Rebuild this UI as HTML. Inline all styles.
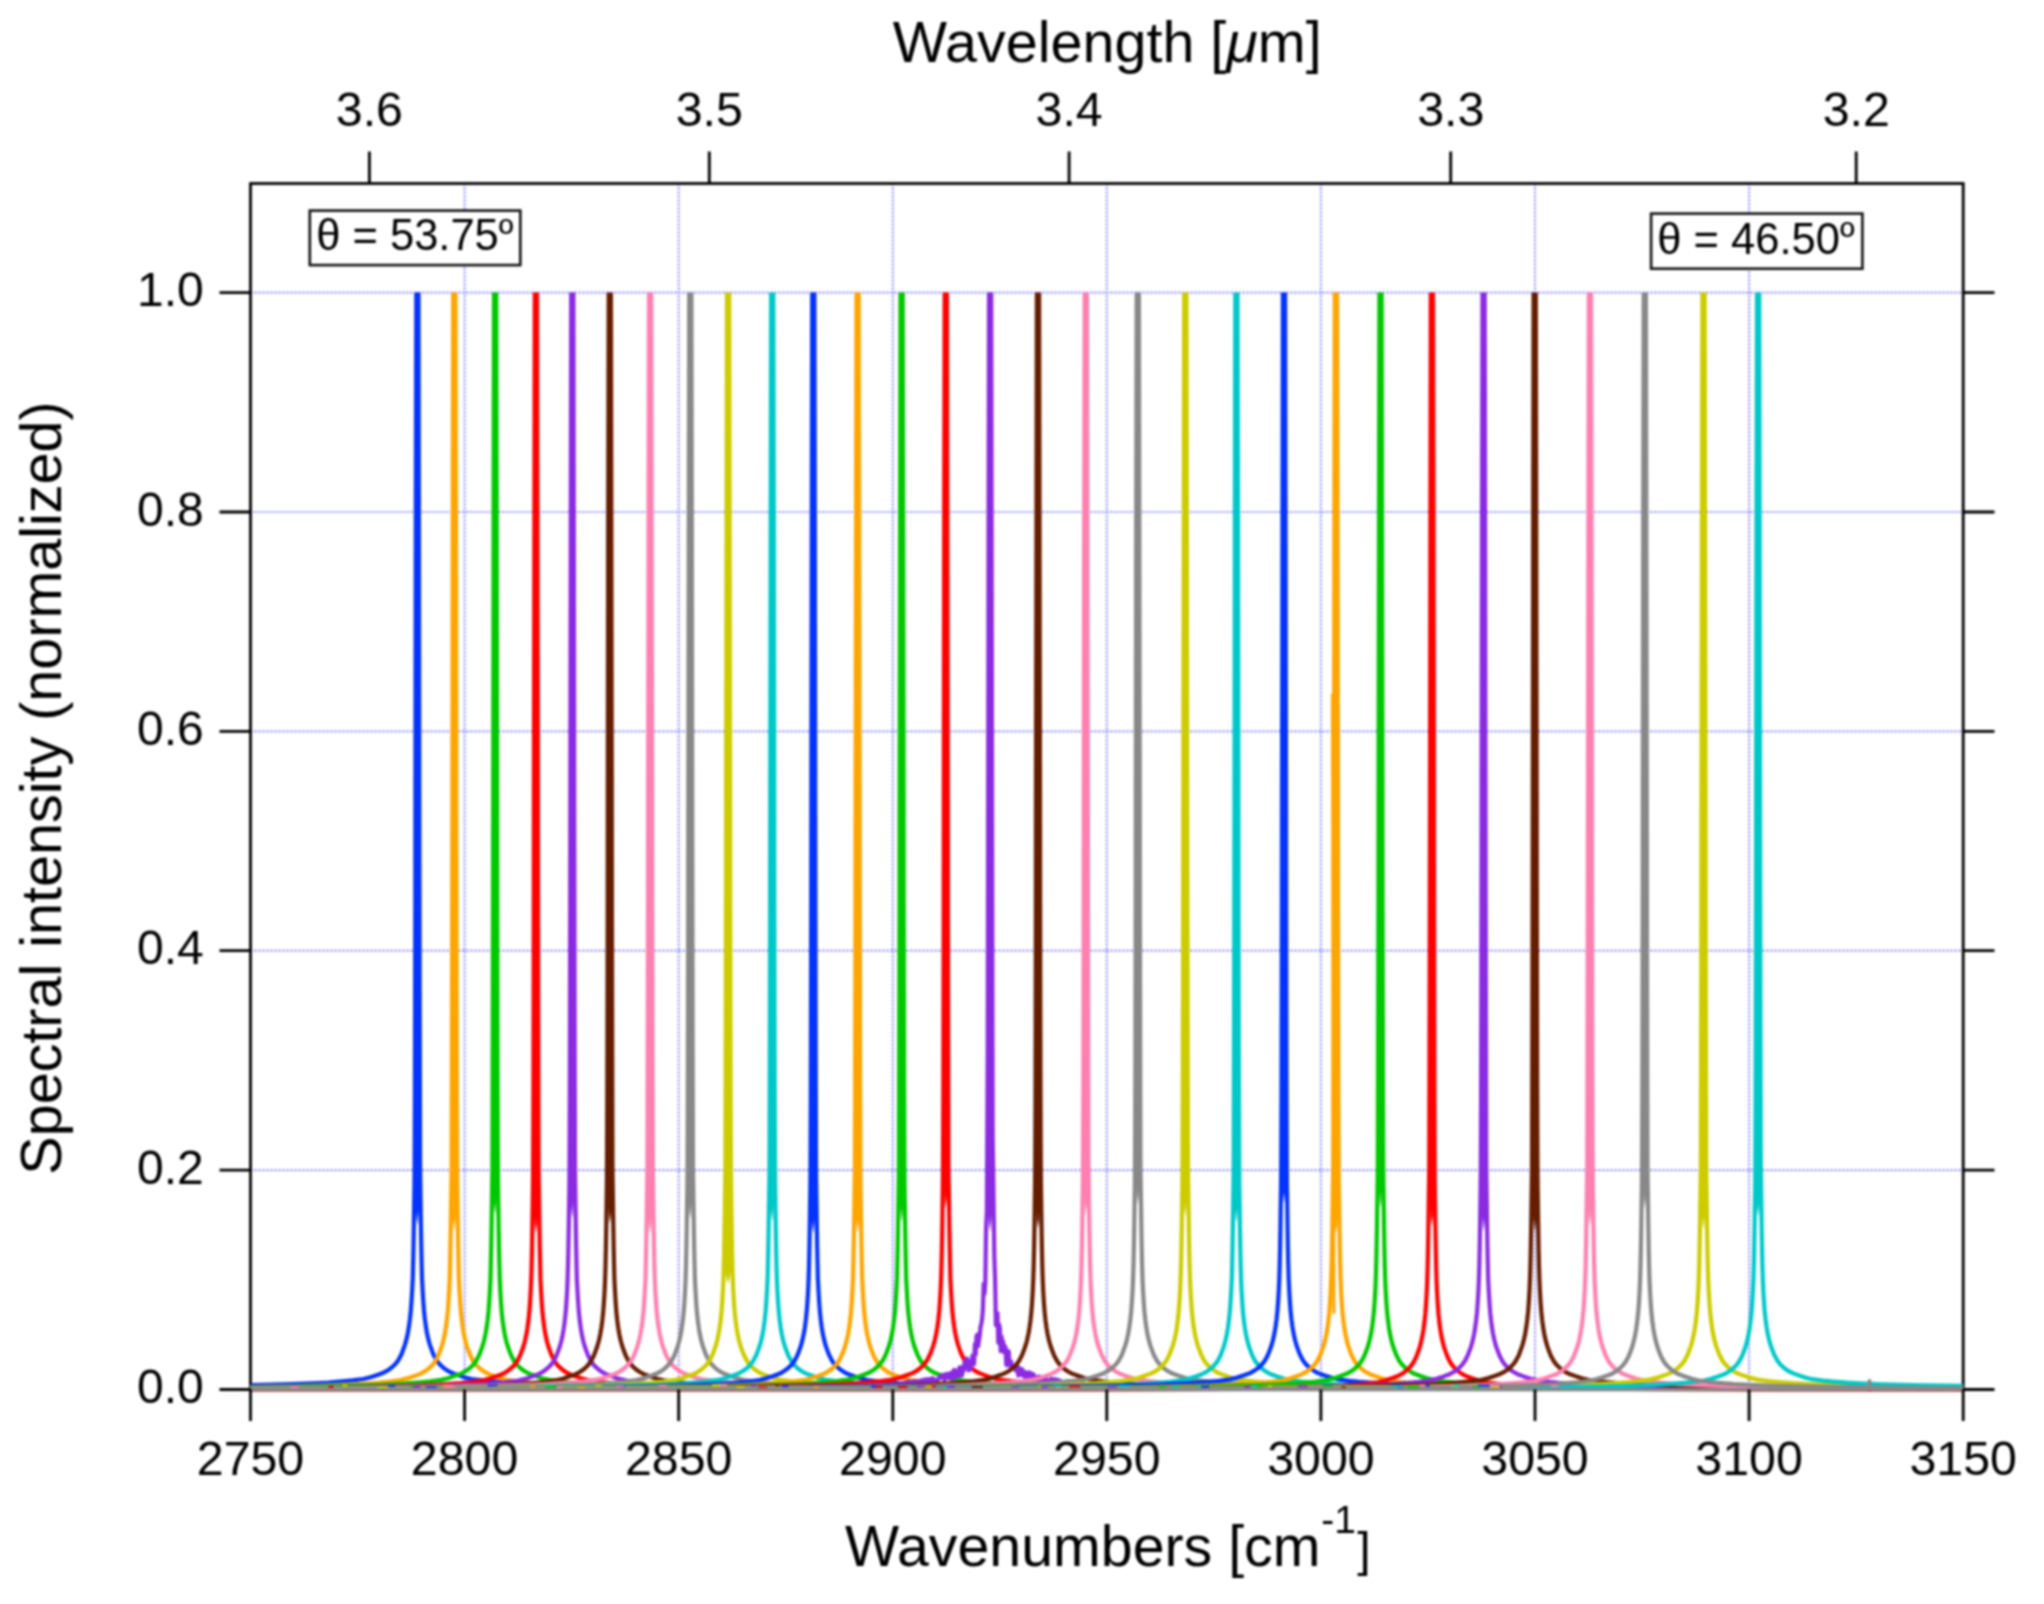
<!DOCTYPE html>
<html><head><meta charset="utf-8"><title>Spectral intensity</title>
<style>html,body{margin:0;padding:0;background:#fff}svg{display:block;filter:blur(0.9px)}text{font-family:"Liberation Sans",Arial,Helvetica,sans-serif;fill:#000}</style></head><body>
<svg width="2044" height="1604" viewBox="0 0 2044 1604">
<rect width="2044" height="1604" fill="#fff"/>
<defs><clipPath id="cp"><rect x="250.5" y="292.4" width="1712.7" height="1099.4"/></clipPath></defs>
<path d="M464.6 183.5 V1389.5 M678.7 183.5 V1389.5 M892.8 183.5 V1389.5 M1106.8 183.5 V1389.5 M1320.9 183.5 V1389.5 M1535.0 183.5 V1389.5 M1749.1 183.5 V1389.5 M250.5 1170.1 H1963.2 M250.5 950.7 H1963.2 M250.5 731.4 H1963.2 M250.5 512.0 H1963.2 M250.5 292.6 H1963.2" stroke="#8a8aff" stroke-width="2.2" stroke-dasharray="2 2" fill="none"/>
<rect x="309.8" y="210.6" width="210.5" height="54.5" fill="#fff" stroke="#111" stroke-width="2.6"/>
<text x="316.2" y="250" font-size="43.5">θ = 53.75<tspan dy="-3.5" font-size="40">º</tspan></text>
<rect x="1651.1" y="213.6" width="211.3" height="55.1" fill="#fff" stroke="#111" stroke-width="2.6"/>
<text x="1657.3" y="253.6" font-size="43.5">θ = 46.50<tspan dy="-3.5" font-size="40">º</tspan></text>
<rect x="250.5" y="183.5" width="1712.7" height="1206.0" fill="none" stroke="#000" stroke-width="2.8"/>
<g clip-path="url(#cp)" fill="none" stroke-width="4.2" stroke-linejoin="round">
<path d="M250.5 1385.1 L252.4 1385.1 L293.4 1384.1 L312.4 1383.4 L328.4 1382.5 L342.4 1381.4 L352.4 1380.4 L363.4 1379.0 L370.4 1377.3 L377.4 1374.9 L383.4 1372.7 L387.4 1370.6 L391.4 1367.8 L395.4 1364.0 L398.4 1360.1 L401.4 1354.4 L403.4 1349.1 L404.9 1344.9 L406.4 1339.6 L407.9 1332.7 L408.9 1326.7 L409.9 1319.3 L410.8 1310.7 L411.5 1301.5 L412.2 1289.6 L412.8 1277.8 L413.1 1264.9 L413.5 1246.5 L413.9 1223.0 L414.2 1201.1 L414.4 1187.7 L414.6 1168.1 L414.9 1091.8 L415.1 1003.6 L415.3 900.0 L415.4 795.2 L415.8 510.0 L416.3 290.6 L417.4 290.6 L418.5 290.6 L418.9 510.0 L419.3 795.2 L419.5 900.0 L419.7 1003.6 L419.9 1091.8 L420.1 1168.1 L420.4 1187.7 L420.6 1201.1 L420.9 1223.0 L421.3 1246.5 L421.7 1264.9 L422.0 1277.8 L422.6 1289.6 L423.3 1301.5 L424.0 1310.7 L424.9 1319.3 L425.9 1326.7 L426.9 1332.7 L428.4 1339.6 L429.9 1344.9 L431.4 1349.1 L433.4 1354.4 L436.4 1360.1 L439.4 1364.0 L443.4 1367.8 L447.4 1370.6 L451.4 1372.7 L457.4 1374.9 L464.4 1377.3 L471.4 1379.0 L482.4 1380.4 L492.4 1381.4 L506.4 1382.5 L522.4 1383.4 L541.4 1384.1 L582.4 1385.1 L637.4 1385.9 L717.4 1386.4 L867.4 1386.9 L1117.4 1387.2 L1417.4 1387.3 L1917.4 1387.4 L1963.2 1387.4" stroke="#0433ff"/>
<path d="M417.4 1225.1 L414.3 1196.1 L414.6 1170.1 L414.8 1115.3 L415.1 1005.6 L415.3 895.9 L415.4 797.2 L415.7 676.5 L415.8 512.0 L416.1 402.3 L416.3 292.6 L418.5 292.6 L418.7 402.3 L418.9 512.0 L419.1 676.5 L419.3 797.2 L419.5 895.9 L419.7 1005.6 L420.0 1115.3 L420.1 1170.1 L420.5 1196.1Z" fill="#0433ff" stroke="none"/>
<path d="M250.5 1386.9 L289.3 1386.3 L330.3 1385.3 L349.3 1384.5 L365.3 1383.6 L379.3 1382.6 L389.3 1381.6 L400.3 1380.1 L407.3 1378.4 L414.3 1376.1 L420.3 1373.9 L424.3 1371.7 L428.3 1368.9 L432.3 1365.2 L435.3 1361.3 L438.3 1355.5 L440.3 1350.3 L441.8 1346.1 L443.3 1340.8 L444.8 1333.8 L445.8 1327.9 L446.8 1320.5 L447.7 1311.9 L448.4 1302.6 L449.1 1290.8 L449.7 1279.0 L450.0 1266.0 L450.4 1247.7 L450.8 1224.1 L451.1 1202.2 L451.3 1188.8 L451.6 1169.3 L451.8 1093.0 L452.0 1004.8 L452.2 901.1 L452.4 796.4 L452.8 511.2 L453.2 291.8 L454.3 291.8 L455.4 291.8 L455.9 511.2 L456.2 796.4 L456.4 901.1 L456.6 1004.8 L456.8 1093.0 L457.1 1169.3 L457.3 1188.8 L457.5 1202.2 L457.8 1224.1 L458.2 1247.7 L458.6 1266.0 L458.9 1279.0 L459.5 1290.8 L460.2 1302.6 L460.9 1311.9 L461.8 1320.5 L462.8 1327.9 L463.8 1333.8 L465.3 1340.8 L466.8 1346.1 L468.3 1350.3 L470.3 1355.5 L473.3 1361.3 L476.3 1365.2 L480.3 1368.9 L484.3 1371.7 L488.3 1373.9 L494.3 1376.1 L501.3 1378.4 L508.3 1380.1 L519.3 1381.6 L529.3 1382.6 L543.3 1383.6 L559.3 1384.5 L578.3 1385.3 L619.3 1386.3 L674.3 1387.0 L754.3 1387.6 L904.3 1388.0 L1154.3 1388.3 L1454.3 1388.5 L1954.3 1388.5 L1963.2 1388.6" stroke="#ffa500"/>
<path d="M454.3 1230.7 L451.1 1202.7 L451.6 1170.1 L451.7 1115.3 L452.0 1005.6 L452.2 895.9 L452.4 797.2 L452.6 676.5 L452.8 512.0 L453.0 402.3 L453.2 292.6 L455.4 292.6 L455.6 402.3 L455.9 512.0 L456.0 676.5 L456.2 797.2 L456.4 895.9 L456.6 1005.6 L456.9 1115.3 L457.1 1170.1 L457.5 1202.7Z" fill="#ffa500" stroke="none"/>
<path d="M250.5 1387.0 L275.1 1386.8 L330.1 1386.0 L371.1 1385.0 L390.1 1384.3 L406.1 1383.4 L420.1 1382.3 L430.1 1381.4 L441.1 1379.9 L448.1 1378.2 L455.1 1375.8 L461.1 1373.6 L465.1 1371.5 L469.1 1368.7 L473.1 1364.9 L476.1 1361.0 L479.1 1355.3 L481.1 1350.1 L482.6 1345.8 L484.1 1340.5 L485.6 1333.6 L486.6 1327.7 L487.6 1320.2 L488.5 1311.7 L489.2 1302.4 L489.9 1290.6 L490.5 1278.8 L490.8 1265.8 L491.2 1247.5 L491.6 1223.9 L491.9 1202.0 L492.1 1188.6 L492.4 1169.1 L492.6 1092.8 L492.8 1004.5 L493.0 900.9 L493.2 796.1 L493.6 510.9 L494.0 291.5 L495.1 291.5 L496.2 291.5 L496.7 510.9 L497.1 796.1 L497.2 900.9 L497.4 1004.5 L497.6 1092.8 L497.9 1169.1 L498.1 1188.6 L498.3 1202.0 L498.6 1223.9 L499.0 1247.5 L499.4 1265.8 L499.8 1278.8 L500.3 1290.6 L501.0 1302.4 L501.7 1311.7 L502.6 1320.2 L503.6 1327.7 L504.6 1333.6 L506.1 1340.5 L507.6 1345.8 L509.1 1350.1 L511.1 1355.3 L514.1 1361.0 L517.1 1364.9 L521.1 1368.7 L525.1 1371.5 L529.1 1373.6 L535.1 1375.8 L542.1 1378.2 L549.1 1379.9 L560.1 1381.4 L570.1 1382.3 L584.1 1383.4 L600.1 1384.3 L619.1 1385.0 L660.1 1386.0 L715.1 1386.8 L795.1 1387.4 L945.1 1387.8 L1195.1 1388.1 L1495.1 1388.2 L1963.2 1388.3" stroke="#00c800"/>
<path d="M495.1 1214.4 L492.2 1183.5 L492.4 1170.1 L492.5 1115.3 L492.8 1005.6 L493.0 895.9 L493.2 797.2 L493.4 676.5 L493.6 512.0 L493.8 402.3 L494.0 292.6 L496.2 292.6 L496.4 402.3 L496.7 512.0 L496.8 676.5 L497.1 797.2 L497.2 895.9 L497.4 1005.6 L497.7 1115.3 L497.9 1170.1 L498.0 1183.5Z" fill="#00c800" stroke="none"/>
<path d="M250.5 1387.9 L315.9 1387.4 L370.9 1386.7 L411.9 1385.7 L430.9 1384.9 L446.9 1384.0 L460.9 1383.0 L470.9 1382.0 L481.9 1380.5 L488.9 1378.8 L495.9 1376.5 L501.9 1374.3 L505.9 1372.2 L509.9 1369.3 L513.9 1365.6 L516.9 1361.7 L519.9 1355.9 L521.9 1350.7 L523.4 1346.5 L524.9 1341.2 L526.4 1334.2 L527.4 1328.3 L528.4 1320.9 L529.3 1312.3 L530.0 1303.0 L530.7 1291.2 L531.2 1279.4 L531.6 1266.4 L532.0 1248.1 L532.4 1224.6 L532.7 1202.6 L532.9 1189.3 L533.1 1169.7 L533.4 1093.4 L533.6 1005.2 L533.8 901.5 L533.9 796.8 L534.4 511.6 L534.8 292.2 L535.9 292.2 L537.0 292.2 L537.4 511.6 L537.9 796.8 L538.0 901.5 L538.2 1005.2 L538.4 1093.4 L538.6 1169.7 L538.9 1189.3 L539.1 1202.6 L539.4 1224.6 L539.8 1248.1 L540.2 1266.4 L540.5 1279.4 L541.1 1291.2 L541.8 1303.0 L542.5 1312.3 L543.4 1320.9 L544.4 1328.3 L545.4 1334.2 L546.9 1341.2 L548.4 1346.5 L549.9 1350.7 L551.9 1355.9 L554.9 1361.7 L557.9 1365.6 L561.9 1369.3 L565.9 1372.2 L569.9 1374.3 L575.9 1376.5 L582.9 1378.8 L589.9 1380.5 L600.9 1382.0 L610.9 1383.0 L624.9 1384.0 L640.9 1384.9 L659.9 1385.7 L700.9 1386.7 L755.9 1387.4 L835.9 1388.0 L985.9 1388.5 L1235.9 1388.7 L1535.9 1388.9 L1963.2 1388.9" stroke="#ff0000"/>
<path d="M535.9 1233.3 L532.7 1205.7 L533.1 1170.1 L533.3 1115.3 L533.6 1005.6 L533.8 895.9 L533.9 797.2 L534.2 676.5 L534.4 512.0 L534.6 402.3 L534.8 292.6 L537.0 292.6 L537.2 402.3 L537.4 512.0 L537.6 676.5 L537.9 797.2 L538.0 895.9 L538.2 1005.6 L538.5 1115.3 L538.6 1170.1 L539.1 1205.7Z" fill="#ff0000" stroke="none"/>
<path d="M250.5 1388.1 L272.3 1388.0 L352.3 1387.4 L407.3 1386.7 L448.3 1385.7 L467.3 1384.9 L483.3 1384.0 L497.3 1383.0 L507.3 1382.0 L518.3 1380.5 L525.3 1378.9 L532.3 1376.5 L538.3 1374.3 L542.3 1372.2 L546.3 1369.3 L550.3 1365.6 L553.3 1361.7 L556.3 1356.0 L558.3 1350.7 L559.8 1346.5 L561.3 1341.2 L562.8 1334.2 L563.8 1328.3 L564.8 1320.9 L565.7 1312.3 L566.4 1303.0 L567.1 1291.2 L567.6 1279.4 L568.0 1266.4 L568.4 1248.1 L568.8 1224.6 L569.1 1202.6 L569.3 1189.3 L569.5 1169.7 L569.8 1093.4 L570.0 1005.2 L570.2 901.5 L570.3 796.8 L570.8 511.6 L571.2 292.2 L572.3 292.2 L573.4 292.2 L573.8 511.6 L574.2 796.8 L574.4 901.5 L574.6 1005.2 L574.8 1093.4 L575.0 1169.7 L575.3 1189.3 L575.5 1202.6 L575.8 1224.6 L576.2 1248.1 L576.6 1266.4 L576.9 1279.4 L577.5 1291.2 L578.2 1303.0 L578.9 1312.3 L579.8 1320.9 L580.8 1328.3 L581.8 1334.2 L583.3 1341.2 L584.8 1346.5 L586.3 1350.7 L588.3 1356.0 L591.3 1361.7 L594.3 1365.6 L598.3 1369.3 L602.3 1372.2 L606.3 1374.3 L612.3 1376.5 L619.3 1378.9 L626.3 1380.5 L637.3 1382.0 L647.3 1383.0 L661.3 1384.0 L677.3 1384.9 L696.3 1385.7 L737.3 1386.7 L792.3 1387.4 L872.3 1388.0 L1022.3 1388.5 L1272.3 1388.7 L1572.3 1388.9 L1963.2 1388.9" stroke="#8a2be2"/>
<path d="M572.3 1218.2 L569.3 1187.9 L569.5 1170.1 L569.7 1115.3 L570.0 1005.6 L570.2 895.9 L570.3 797.2 L570.6 676.5 L570.8 512.0 L571.0 402.3 L571.2 292.6 L573.4 292.6 L573.6 402.3 L573.8 512.0 L574.0 676.5 L574.2 797.2 L574.4 895.9 L574.6 1005.6 L574.9 1115.3 L575.0 1170.1 L575.3 1187.9Z" fill="#8a2be2" stroke="none"/>
<path d="M250.5 1388.0 L309.8 1387.8 L389.8 1387.2 L444.8 1386.5 L485.8 1385.5 L504.8 1384.8 L520.8 1383.9 L534.8 1382.8 L544.8 1381.8 L555.8 1380.3 L562.8 1378.7 L569.8 1376.3 L575.8 1374.1 L579.8 1372.0 L583.8 1369.2 L587.8 1365.4 L590.8 1361.5 L593.8 1355.8 L595.8 1350.5 L597.3 1346.3 L598.8 1341.0 L600.3 1334.1 L601.3 1328.1 L602.3 1320.7 L603.2 1312.1 L603.9 1302.8 L604.6 1291.0 L605.1 1279.2 L605.5 1266.2 L605.9 1247.9 L606.3 1224.4 L606.6 1202.4 L606.8 1189.1 L607.0 1169.5 L607.3 1093.2 L607.5 1005.0 L607.7 901.4 L607.8 796.6 L608.2 511.4 L608.7 292.0 L609.8 292.0 L610.9 292.0 L611.3 511.4 L611.8 796.6 L611.9 901.4 L612.1 1005.0 L612.3 1093.2 L612.5 1169.5 L612.8 1189.1 L613.0 1202.4 L613.3 1224.4 L613.7 1247.9 L614.1 1266.2 L614.4 1279.2 L615.0 1291.0 L615.7 1302.8 L616.4 1312.1 L617.3 1320.7 L618.3 1328.1 L619.3 1334.1 L620.8 1341.0 L622.3 1346.3 L623.8 1350.5 L625.8 1355.8 L628.8 1361.5 L631.8 1365.4 L635.8 1369.2 L639.8 1372.0 L643.8 1374.1 L649.8 1376.3 L656.8 1378.7 L663.8 1380.3 L674.8 1381.8 L684.8 1382.8 L698.8 1383.9 L714.8 1384.8 L733.8 1385.5 L774.8 1386.5 L829.8 1387.2 L909.8 1387.8 L1059.8 1388.3 L1309.8 1388.5 L1609.8 1388.7 L1963.2 1388.8" stroke="#651d00"/>
<path d="M609.8 1223.7 L606.7 1194.5 L607.0 1170.1 L607.2 1115.3 L607.5 1005.6 L607.7 895.9 L607.8 797.2 L608.1 676.5 L608.2 512.0 L608.5 402.3 L608.7 292.6 L610.9 292.6 L611.1 402.3 L611.3 512.0 L611.5 676.5 L611.8 797.2 L611.9 895.9 L612.1 1005.6 L612.4 1115.3 L612.5 1170.1 L612.9 1194.5Z" fill="#651d00" stroke="none"/>
<path d="M250.5 1387.5 L350.1 1387.2 L430.1 1386.6 L485.1 1385.9 L526.1 1384.9 L545.1 1384.1 L561.1 1383.2 L575.1 1382.2 L585.1 1381.2 L596.1 1379.7 L603.1 1378.0 L610.1 1375.7 L616.1 1373.5 L620.1 1371.3 L624.1 1368.5 L628.1 1364.8 L631.1 1360.9 L634.1 1355.1 L636.1 1349.9 L637.6 1345.7 L639.1 1340.3 L640.6 1333.4 L641.6 1327.5 L642.6 1320.0 L643.5 1311.5 L644.2 1302.2 L644.9 1290.4 L645.5 1278.6 L645.8 1265.6 L646.2 1247.3 L646.6 1223.7 L646.9 1201.8 L647.1 1188.4 L647.4 1168.9 L647.6 1092.6 L647.8 1004.4 L648.0 900.7 L648.1 795.9 L648.6 510.8 L649.0 291.4 L650.1 291.4 L651.2 291.4 L651.6 510.8 L652.1 795.9 L652.2 900.7 L652.4 1004.4 L652.6 1092.6 L652.9 1168.9 L653.1 1188.4 L653.3 1201.8 L653.6 1223.7 L654.0 1247.3 L654.4 1265.6 L654.8 1278.6 L655.3 1290.4 L656.0 1302.2 L656.7 1311.5 L657.6 1320.0 L658.6 1327.5 L659.6 1333.4 L661.1 1340.3 L662.6 1345.7 L664.1 1349.9 L666.1 1355.1 L669.1 1360.9 L672.1 1364.8 L676.1 1368.5 L680.1 1371.3 L684.1 1373.5 L690.1 1375.7 L697.1 1378.0 L704.1 1379.7 L715.1 1381.2 L725.1 1382.2 L739.1 1383.2 L755.1 1384.1 L774.1 1384.9 L815.1 1385.9 L870.1 1386.6 L950.1 1387.2 L1100.1 1387.6 L1350.1 1387.9 L1650.1 1388.1 L1963.2 1388.1" stroke="#ff80b0"/>
<path d="M650.1 1233.8 L646.9 1206.3 L647.4 1170.1 L647.5 1115.3 L647.8 1005.6 L648.0 895.9 L648.1 797.2 L648.4 676.5 L648.6 512.0 L648.8 402.3 L649.0 292.6 L651.2 292.6 L651.4 402.3 L651.6 512.0 L651.8 676.5 L652.1 797.2 L652.2 895.9 L652.4 1005.6 L652.7 1115.3 L652.9 1170.1 L653.3 1206.3Z" fill="#ff80b0" stroke="none"/>
<path d="M250.5 1388.0 L390.3 1387.5 L470.3 1387.0 L525.3 1386.2 L566.3 1385.2 L585.3 1384.5 L601.3 1383.6 L615.3 1382.5 L625.3 1381.5 L636.3 1380.1 L643.3 1378.4 L650.3 1376.0 L656.3 1373.8 L660.3 1371.7 L664.3 1368.9 L668.3 1365.1 L671.3 1361.2 L674.3 1355.5 L676.3 1350.2 L677.8 1346.0 L679.3 1340.7 L680.8 1333.8 L681.8 1327.8 L682.8 1320.4 L683.7 1311.8 L684.4 1302.5 L685.1 1290.7 L685.6 1278.9 L686.0 1266.0 L686.4 1247.6 L686.8 1224.1 L687.1 1202.1 L687.3 1188.8 L687.5 1169.2 L687.8 1092.9 L688.0 1004.7 L688.2 901.1 L688.3 796.3 L688.8 511.1 L689.2 291.7 L690.3 291.7 L691.4 291.7 L691.8 511.1 L692.2 796.3 L692.4 901.1 L692.6 1004.7 L692.8 1092.9 L693.0 1169.2 L693.3 1188.8 L693.5 1202.1 L693.8 1224.1 L694.2 1247.6 L694.6 1266.0 L694.9 1278.9 L695.5 1290.7 L696.2 1302.5 L696.9 1311.8 L697.8 1320.4 L698.8 1327.8 L699.8 1333.8 L701.3 1340.7 L702.8 1346.0 L704.3 1350.2 L706.3 1355.5 L709.3 1361.2 L712.3 1365.1 L716.3 1368.9 L720.3 1371.7 L724.3 1373.8 L730.3 1376.0 L737.3 1378.4 L744.3 1380.1 L755.3 1381.5 L765.3 1382.5 L779.3 1383.6 L795.3 1384.5 L814.3 1385.2 L855.3 1386.2 L910.3 1387.0 L990.3 1387.5 L1140.3 1388.0 L1390.3 1388.3 L1690.3 1388.4 L1963.2 1388.4" stroke="#888888"/>
<path d="M690.3 1219.1 L687.3 1189.0 L687.5 1170.1 L687.7 1115.3 L688.0 1005.6 L688.2 895.9 L688.3 797.2 L688.6 676.5 L688.8 512.0 L689.0 402.3 L689.2 292.6 L691.4 292.6 L691.6 402.3 L691.8 512.0 L692.0 676.5 L692.2 797.2 L692.4 895.9 L692.6 1005.6 L692.9 1115.3 L693.0 1170.1 L693.3 1189.0Z" fill="#888888" stroke="none"/>
<path d="M250.5 1388.2 L278.1 1388.1 L428.1 1387.7 L508.1 1387.1 L563.1 1386.3 L604.1 1385.4 L623.1 1384.6 L639.1 1383.7 L653.1 1382.6 L663.1 1381.7 L674.1 1380.2 L681.1 1378.5 L688.1 1376.1 L694.1 1373.9 L698.1 1371.8 L702.1 1369.0 L706.1 1365.2 L709.1 1361.3 L712.1 1355.6 L714.1 1350.4 L715.6 1346.1 L717.1 1340.8 L718.6 1333.9 L719.6 1328.0 L720.6 1320.5 L721.5 1312.0 L722.2 1302.7 L722.9 1290.9 L723.5 1279.1 L723.8 1266.1 L724.2 1247.8 L724.6 1224.2 L724.9 1202.3 L725.1 1188.9 L725.4 1169.4 L725.6 1093.1 L725.8 1004.8 L726.0 901.2 L726.1 796.4 L726.6 511.2 L727.0 291.9 L728.1 291.9 L729.2 291.9 L729.6 511.2 L730.1 796.4 L730.2 901.2 L730.4 1004.8 L730.6 1093.1 L730.9 1169.4 L731.1 1188.9 L731.3 1202.3 L731.6 1224.2 L732.0 1247.8 L732.4 1266.1 L732.8 1279.1 L733.3 1290.9 L734.0 1302.7 L734.7 1312.0 L735.6 1320.5 L736.6 1328.0 L737.6 1333.9 L739.1 1340.8 L740.6 1346.1 L742.1 1350.4 L744.1 1355.6 L747.1 1361.3 L750.1 1365.2 L754.1 1369.0 L758.1 1371.8 L762.1 1373.9 L768.1 1376.1 L775.1 1378.5 L782.1 1380.2 L793.1 1381.7 L803.1 1382.6 L817.1 1383.7 L833.1 1384.6 L852.1 1385.4 L893.1 1386.3 L948.1 1387.1 L1028.1 1387.7 L1178.1 1388.1 L1428.1 1388.4 L1728.1 1388.5 L1963.2 1388.6" stroke="#cccc00"/>
<path d="M728.1 1284.1 L723.8 1265.6 L725.4 1170.1 L725.5 1115.3 L725.8 1005.6 L726.0 895.9 L726.1 797.2 L726.4 676.5 L726.6 512.0 L726.8 402.3 L727.0 292.6 L729.2 292.6 L729.4 402.3 L729.6 512.0 L729.8 676.5 L730.1 797.2 L730.2 895.9 L730.4 1005.6 L730.7 1115.3 L730.9 1170.1 L732.4 1265.6Z" fill="#cccc00" stroke="none"/>
<path d="M250.5 1387.9 L322.2 1387.8 L472.2 1387.3 L552.2 1386.7 L607.2 1386.0 L648.2 1385.0 L667.2 1384.3 L683.2 1383.4 L697.2 1382.3 L707.2 1381.3 L718.2 1379.8 L725.2 1378.2 L732.2 1375.8 L738.2 1373.6 L742.2 1371.5 L746.2 1368.7 L750.2 1364.9 L753.2 1361.0 L756.2 1355.3 L758.2 1350.0 L759.7 1345.8 L761.2 1340.5 L762.7 1333.6 L763.7 1327.6 L764.7 1320.2 L765.6 1311.6 L766.3 1302.3 L767.0 1290.5 L767.6 1278.7 L767.9 1265.7 L768.3 1247.4 L768.7 1223.9 L769.0 1201.9 L769.2 1188.6 L769.5 1169.0 L769.7 1092.7 L769.9 1004.5 L770.1 900.9 L770.2 796.1 L770.7 510.9 L771.1 291.5 L772.2 291.5 L773.3 291.5 L773.8 510.9 L774.2 796.1 L774.3 900.9 L774.5 1004.5 L774.7 1092.7 L775.0 1169.0 L775.2 1188.6 L775.4 1201.9 L775.7 1223.9 L776.1 1247.4 L776.5 1265.7 L776.9 1278.7 L777.4 1290.5 L778.1 1302.3 L778.8 1311.6 L779.7 1320.2 L780.7 1327.6 L781.7 1333.6 L783.2 1340.5 L784.7 1345.8 L786.2 1350.0 L788.2 1355.3 L791.2 1361.0 L794.2 1364.9 L798.2 1368.7 L802.2 1371.5 L806.2 1373.6 L812.2 1375.8 L819.2 1378.2 L826.2 1379.8 L837.2 1381.3 L847.2 1382.3 L861.2 1383.4 L877.2 1384.3 L896.2 1385.0 L937.2 1386.0 L992.2 1386.7 L1072.2 1387.3 L1222.2 1387.8 L1472.2 1388.0 L1772.2 1388.2 L1963.2 1388.2" stroke="#00c8c8"/>
<path d="M772.2 1221.5 L769.2 1191.9 L769.5 1170.1 L769.6 1115.3 L769.9 1005.6 L770.1 895.9 L770.2 797.2 L770.5 676.5 L770.7 512.0 L770.9 402.3 L771.1 292.6 L773.3 292.6 L773.5 402.3 L773.8 512.0 L773.9 676.5 L774.2 797.2 L774.3 895.9 L774.5 1005.6 L774.8 1115.3 L775.0 1170.1 L775.2 1191.9Z" fill="#00c8c8" stroke="none"/>
<path d="M250.5 1388.1 L363.3 1387.9 L513.3 1387.5 L593.3 1386.9 L648.3 1386.2 L689.3 1385.2 L708.3 1384.4 L724.3 1383.5 L738.3 1382.5 L748.3 1381.5 L759.3 1380.0 L766.3 1378.3 L773.3 1376.0 L779.3 1373.8 L783.3 1371.6 L787.3 1368.8 L791.3 1365.1 L794.3 1361.2 L797.3 1355.4 L799.3 1350.2 L800.8 1346.0 L802.3 1340.6 L803.8 1333.7 L804.8 1327.8 L805.8 1320.3 L806.7 1311.8 L807.4 1302.5 L808.1 1290.7 L808.6 1278.9 L809.0 1265.9 L809.4 1247.6 L809.8 1224.0 L810.1 1202.1 L810.3 1188.7 L810.5 1169.2 L810.8 1092.9 L811.0 1004.7 L811.2 901.0 L811.3 796.2 L811.8 511.1 L812.2 291.7 L813.3 291.7 L814.4 291.7 L814.8 511.1 L815.2 796.2 L815.4 901.0 L815.6 1004.7 L815.8 1092.9 L816.0 1169.2 L816.3 1188.7 L816.5 1202.1 L816.8 1224.0 L817.2 1247.6 L817.6 1265.9 L817.9 1278.9 L818.5 1290.7 L819.2 1302.5 L819.9 1311.8 L820.8 1320.3 L821.8 1327.8 L822.8 1333.7 L824.3 1340.6 L825.8 1346.0 L827.3 1350.2 L829.3 1355.4 L832.3 1361.2 L835.3 1365.1 L839.3 1368.8 L843.3 1371.6 L847.3 1373.8 L853.3 1376.0 L860.3 1378.3 L867.3 1380.0 L878.3 1381.5 L888.3 1382.5 L902.3 1383.5 L918.3 1384.4 L937.3 1385.2 L978.3 1386.2 L1033.3 1386.9 L1113.3 1387.5 L1263.3 1387.9 L1513.3 1388.2 L1813.3 1388.4 L1963.2 1388.4" stroke="#0433ff"/>
<path d="M813.3 1233.4 L810.1 1205.8 L810.5 1170.1 L810.7 1115.3 L811.0 1005.6 L811.2 895.9 L811.3 797.2 L811.6 676.5 L811.8 512.0 L812.0 402.3 L812.2 292.6 L814.4 292.6 L814.6 402.3 L814.8 512.0 L815.0 676.5 L815.2 797.2 L815.4 895.9 L815.6 1005.6 L815.9 1115.3 L816.0 1170.1 L816.5 1205.8Z" fill="#0433ff" stroke="none"/>
<path d="M250.5 1388.3 L407.6 1388.1 L557.6 1387.7 L637.6 1387.1 L692.6 1386.4 L733.6 1385.4 L752.6 1384.6 L768.6 1383.7 L782.6 1382.7 L792.6 1381.7 L803.6 1380.2 L810.6 1378.5 L817.6 1376.2 L823.6 1374.0 L827.6 1371.8 L831.6 1369.0 L835.6 1365.3 L838.6 1361.4 L841.6 1355.6 L843.6 1350.4 L845.1 1346.2 L846.6 1340.9 L848.1 1333.9 L849.1 1328.0 L850.1 1320.5 L851.0 1312.0 L851.7 1302.7 L852.4 1290.9 L853.0 1279.1 L853.3 1266.1 L853.7 1247.8 L854.1 1224.2 L854.4 1202.3 L854.6 1188.9 L854.9 1169.4 L855.1 1093.1 L855.3 1004.9 L855.5 901.2 L855.6 796.5 L856.1 511.3 L856.5 291.9 L857.6 291.9 L858.7 291.9 L859.1 511.3 L859.6 796.5 L859.7 901.2 L859.9 1004.9 L860.1 1093.1 L860.4 1169.4 L860.6 1188.9 L860.8 1202.3 L861.1 1224.2 L861.5 1247.8 L861.9 1266.1 L862.2 1279.1 L862.8 1290.9 L863.5 1302.7 L864.2 1312.0 L865.1 1320.5 L866.1 1328.0 L867.1 1333.9 L868.6 1340.9 L870.1 1346.2 L871.6 1350.4 L873.6 1355.6 L876.6 1361.4 L879.6 1365.3 L883.6 1369.0 L887.6 1371.8 L891.6 1374.0 L897.6 1376.2 L904.6 1378.5 L911.6 1380.2 L922.6 1381.7 L932.6 1382.7 L946.6 1383.7 L962.6 1384.6 L981.6 1385.4 L1022.6 1386.4 L1077.6 1387.1 L1157.6 1387.7 L1307.6 1388.1 L1557.6 1388.4 L1857.6 1388.6 L1963.2 1388.6" stroke="#ffa500"/>
<path d="M857.6 1232.7 L854.4 1205.0 L854.9 1170.1 L855.0 1115.3 L855.3 1005.6 L855.5 895.9 L855.6 797.2 L855.9 676.5 L856.1 512.0 L856.3 402.3 L856.5 292.6 L858.7 292.6 L858.9 402.3 L859.1 512.0 L859.3 676.5 L859.6 797.2 L859.7 895.9 L859.9 1005.6 L860.2 1115.3 L860.4 1170.1 L860.8 1205.0Z" fill="#ffa500" stroke="none"/>
<path d="M250.5 1387.7 L451.6 1387.5 L601.6 1387.0 L681.6 1386.5 L736.6 1385.7 L777.6 1384.7 L796.6 1384.0 L812.6 1383.1 L826.6 1382.0 L836.6 1381.0 L847.6 1379.6 L854.6 1377.9 L861.6 1375.5 L867.6 1373.3 L871.6 1371.2 L875.6 1368.4 L879.6 1364.6 L882.6 1360.7 L885.6 1355.0 L887.6 1349.7 L889.1 1345.5 L890.6 1340.2 L892.1 1333.3 L893.1 1327.3 L894.1 1319.9 L895.0 1311.3 L895.7 1302.1 L896.4 1290.2 L897.0 1278.4 L897.3 1265.5 L897.7 1247.1 L898.1 1223.6 L898.4 1201.7 L898.6 1188.3 L898.9 1168.7 L899.1 1092.4 L899.3 1004.2 L899.5 900.6 L899.6 795.8 L900.1 510.6 L900.5 291.2 L901.6 291.2 L902.7 291.2 L903.1 510.6 L903.6 795.8 L903.7 900.6 L903.9 1004.2 L904.1 1092.4 L904.4 1168.7 L904.6 1188.3 L904.8 1201.7 L905.1 1223.6 L905.5 1247.1 L905.9 1265.5 L906.2 1278.4 L906.8 1290.2 L907.5 1302.1 L908.2 1311.3 L909.1 1319.9 L910.1 1327.3 L911.1 1333.3 L912.6 1340.2 L914.1 1345.5 L915.6 1349.7 L917.6 1355.0 L920.6 1360.7 L923.6 1364.6 L927.6 1368.4 L931.6 1371.2 L935.6 1373.3 L941.6 1375.5 L948.6 1377.9 L955.6 1379.6 L966.6 1381.0 L976.6 1382.0 L990.6 1383.1 L1006.6 1384.0 L1025.6 1384.7 L1066.6 1385.7 L1121.6 1386.5 L1201.6 1387.0 L1351.6 1387.5 L1601.6 1387.8 L1901.6 1387.9 L1963.2 1387.9" stroke="#00c800"/>
<path d="M901.6 1221.8 L898.6 1192.2 L898.9 1170.1 L899.0 1115.3 L899.3 1005.6 L899.5 895.9 L899.6 797.2 L899.9 676.5 L900.1 512.0 L900.3 402.3 L900.5 292.6 L902.7 292.6 L902.9 402.3 L903.1 512.0 L903.3 676.5 L903.6 797.2 L903.7 895.9 L903.9 1005.6 L904.2 1115.3 L904.4 1170.1 L904.6 1192.2Z" fill="#00c800" stroke="none"/>
<path d="M250.5 1387.9 L495.8 1387.6 L645.8 1387.2 L725.8 1386.6 L780.8 1385.8 L821.8 1384.9 L840.8 1384.1 L856.8 1383.2 L870.8 1382.1 L880.8 1381.2 L891.8 1379.7 L898.8 1378.0 L905.8 1375.6 L911.8 1373.4 L915.8 1371.3 L919.8 1368.5 L923.8 1364.7 L926.8 1360.8 L929.8 1355.1 L931.8 1349.9 L933.3 1345.6 L934.8 1340.3 L936.3 1333.4 L937.3 1327.5 L938.3 1320.0 L939.2 1311.5 L939.9 1302.2 L940.6 1290.4 L941.1 1278.6 L941.5 1265.6 L941.9 1247.3 L942.3 1223.7 L942.6 1201.8 L942.8 1188.4 L943.0 1168.9 L943.3 1092.6 L943.5 1004.3 L943.7 900.7 L943.8 795.9 L944.2 510.7 L944.7 291.4 L945.8 291.4 L946.9 291.4 L947.3 510.7 L947.8 795.9 L947.9 900.7 L948.1 1004.3 L948.3 1092.6 L948.5 1168.9 L948.8 1188.4 L949.0 1201.8 L949.3 1223.7 L949.7 1247.3 L950.1 1265.6 L950.4 1278.6 L951.0 1290.4 L951.7 1302.2 L952.4 1311.5 L953.3 1320.0 L954.3 1327.5 L955.3 1333.4 L956.8 1340.3 L958.3 1345.6 L959.8 1349.9 L961.8 1355.1 L964.8 1360.8 L967.8 1364.7 L971.8 1368.5 L975.8 1371.3 L979.8 1373.4 L985.8 1375.6 L992.8 1378.0 L999.8 1379.7 L1010.8 1381.2 L1020.8 1382.1 L1034.8 1383.2 L1050.8 1384.1 L1069.8 1384.9 L1110.8 1385.8 L1165.8 1386.6 L1245.8 1387.2 L1395.8 1387.6 L1645.8 1387.9 L1945.8 1388.0 L1963.2 1388.0" stroke="#ff0000"/>
<path d="M945.8 1208.7 L943.0 1176.8 L943.0 1170.1 L943.2 1115.3 L943.5 1005.6 L943.7 895.9 L943.8 797.2 L944.1 676.5 L944.2 512.0 L944.5 402.3 L944.7 292.6 L946.9 292.6 L947.1 402.3 L947.3 512.0 L947.5 676.5 L947.8 797.2 L947.9 895.9 L948.1 1005.6 L948.4 1115.3 L948.5 1170.1 L948.6 1176.8Z" fill="#ff0000" stroke="none"/>
<path d="M250.5 1388.5 L290.5 1388.5 L330.5 1388.5 L370.5 1388.4 L410.5 1388.4 L450.5 1388.3 L490.5 1388.3 L530.5 1388.2 L570.5 1388.1 L610.5 1388.0 L650.5 1387.9 L690.5 1387.8 L696.5 1387.7 L702.5 1387.7 L708.5 1387.7 L714.5 1387.6 L720.5 1387.6 L726.5 1387.5 L732.5 1387.5 L738.5 1387.5 L744.5 1387.4 L750.5 1387.4 L756.5 1387.3 L762.5 1387.3 L768.5 1387.2 L774.5 1387.2 L780.5 1387.1 L786.5 1387.0 L792.5 1386.9 L798.5 1386.9 L804.5 1386.8 L810.5 1386.7 L816.5 1386.6 L822.5 1386.5 L828.5 1386.4 L834.5 1386.3 L840.5 1386.1 L846.5 1386.0 L852.5 1385.8 L858.5 1385.7 L864.5 1385.5 L870.5 1385.3 L876.5 1385.1 L882.5 1384.8 L888.5 1384.5 L894.5 1384.2 L900.5 1384.5 L901.3 1383.4 L902.1 1384.0 L902.9 1383.1 L903.7 1383.0 L904.5 1384.8 L905.3 1385.0 L906.1 1382.1 L906.9 1384.0 L907.7 1384.1 L908.5 1381.3 L909.3 1383.1 L910.1 1381.7 L910.9 1382.9 L911.7 1382.3 L912.5 1384.0 L913.3 1382.1 L914.1 1381.1 L914.9 1382.4 L915.7 1381.5 L916.5 1381.7 L917.3 1384.1 L918.1 1381.1 L918.9 1381.8 L919.7 1382.9 L920.5 1384.0 L921.3 1380.3 L922.1 1381.9 L922.9 1380.8 L923.7 1379.9 L924.5 1380.6 L925.3 1379.5 L926.1 1381.8 L926.9 1379.8 L927.7 1381.4 L928.5 1379.0 L929.3 1379.1 L930.1 1382.8 L930.9 1382.6 L931.7 1382.1 L932.5 1378.1 L933.3 1380.7 L934.1 1379.6 L934.9 1381.2 L935.7 1380.0 L936.5 1380.5 L937.3 1380.5 L938.1 1379.0 L938.9 1378.8 L939.7 1376.7 L940.5 1377.8 L941.3 1376.0 L942.1 1376.2 L942.9 1375.0 L943.7 1376.9 L944.5 1380.1 L945.3 1375.0 L946.1 1373.9 L946.9 1374.0 L947.7 1376.1 L948.5 1374.7 L949.3 1378.3 L950.1 1373.0 L950.9 1374.8 L951.7 1377.0 L952.5 1378.6 L953.3 1371.5 L954.1 1369.9 L954.9 1377.7 L955.7 1370.8 L956.5 1374.1 L957.3 1376.3 L958.1 1374.5 L958.9 1369.1 L959.7 1367.4 L960.5 1376.0 L961.3 1369.1 L962.1 1375.2 L962.9 1366.6 L963.7 1370.7 L964.5 1363.0 L965.3 1360.8 L966.1 1366.4 L966.9 1358.5 L967.7 1367.6 L968.5 1370.4 L969.3 1361.3 L970.1 1369.6 L970.9 1365.9 L971.7 1360.9 L972.5 1355.6 L973.3 1363.1 L974.1 1364.1 L974.9 1344.0 L975.7 1354.5 L976.5 1336.1 L977.3 1334.8 L978.1 1346.2 L978.9 1340.9 L979.7 1335.6 L980.5 1327.2 L981.3 1323.9 L982.1 1319.4 L982.9 1309.5 L983.7 1283.8 L984.5 1293.9 L985.3 1282.9 L986.1 1227.9 L986.9 1210.8 L987.7 1052.8 L988.0 901.3 L988.3 709.5 L988.6 492.4 L988.9 352.3 L989.0 291.9 L989.3 291.9 L989.6 291.9 L989.9 291.9 L990.1 291.9 L990.4 291.9 L990.7 291.9 L991.0 291.9 L991.2 291.9 L991.5 451.2 L991.8 639.7 L992.1 834.6 L992.4 1004.9 L992.7 1135.4 L993.5 1196.1 L994.3 1255.0 L995.1 1279.5 L995.9 1325.1 L996.7 1313.0 L997.5 1313.3 L998.3 1342.8 L999.1 1324.5 L999.9 1328.8 L1000.7 1351.2 L1001.5 1336.7 L1002.3 1344.4 L1003.1 1341.3 L1003.9 1352.0 L1004.7 1345.8 L1005.5 1347.5 L1006.3 1364.8 L1007.1 1365.3 L1007.9 1354.8 L1008.7 1351.2 L1009.5 1365.2 L1010.3 1362.8 L1011.1 1361.6 L1011.9 1366.9 L1012.7 1367.0 L1013.5 1368.5 L1014.3 1368.5 L1015.1 1366.1 L1015.9 1370.7 L1016.7 1370.3 L1017.5 1366.1 L1018.3 1375.5 L1019.1 1369.8 L1019.9 1368.5 L1020.7 1373.6 L1021.5 1374.9 L1022.3 1369.4 L1023.1 1375.5 L1023.9 1376.3 L1024.7 1374.3 L1025.5 1372.2 L1026.3 1377.9 L1027.1 1376.2 L1027.9 1376.4 L1028.7 1372.4 L1029.5 1376.0 L1030.3 1372.9 L1031.1 1378.7 L1031.9 1377.7 L1032.7 1375.6 L1033.5 1374.2 L1034.3 1377.6 L1035.1 1379.5 L1035.9 1380.4 L1036.7 1377.9 L1037.5 1380.3 L1038.3 1376.6 L1039.1 1376.6 L1039.9 1380.9 L1040.7 1380.5 L1041.5 1377.5 L1042.3 1378.7 L1043.1 1378.0 L1043.9 1380.7 L1044.7 1382.1 L1045.5 1381.3 L1046.3 1378.7 L1047.1 1381.6 L1047.9 1381.3 L1048.7 1381.1 L1049.5 1381.2 L1050.3 1381.3 L1051.1 1378.9 L1051.9 1382.7 L1052.7 1383.5 L1053.5 1379.2 L1054.3 1379.6 L1055.1 1379.3 L1055.9 1381.9 L1056.7 1379.7 L1057.5 1379.9 L1058.3 1383.0 L1059.1 1380.9 L1059.9 1380.6 L1060.7 1381.4 L1061.5 1382.1 L1062.3 1383.1 L1063.1 1382.9 L1063.9 1383.5 L1064.7 1384.2 L1065.5 1382.2 L1066.3 1383.4 L1067.1 1381.5 L1067.9 1384.4 L1068.7 1381.3 L1069.5 1382.2 L1070.3 1381.4 L1071.1 1381.6 L1071.9 1381.6 L1072.7 1382.9 L1073.5 1384.9 L1074.3 1382.4 L1075.1 1384.4 L1075.9 1384.0 L1076.7 1382.9 L1077.5 1383.4 L1078.3 1383.8 L1079.1 1382.2 L1079.9 1383.3 L1080.7 1384.2 L1081.5 1384.5 L1082.3 1382.7 L1083.1 1383.9 L1083.9 1383.0 L1084.7 1384.4 L1085.5 1384.2 L1091.5 1384.5 L1097.5 1384.8 L1103.5 1385.1 L1109.5 1385.3 L1115.5 1385.5 L1121.5 1385.7 L1127.5 1385.8 L1133.5 1386.0 L1139.5 1386.1 L1145.5 1386.3 L1151.5 1386.4 L1157.5 1386.5 L1163.5 1386.6 L1169.5 1386.7 L1175.5 1386.8 L1181.5 1386.9 L1187.5 1386.9 L1193.5 1387.0 L1199.5 1387.1 L1205.5 1387.2 L1211.5 1387.2 L1217.5 1387.3 L1223.5 1387.3 L1229.5 1387.4 L1235.5 1387.4 L1241.5 1387.5 L1247.5 1387.5 L1253.5 1387.5 L1259.5 1387.6 L1265.5 1387.6 L1271.5 1387.7 L1277.5 1387.7 L1283.5 1387.7 L1289.5 1387.7 L1295.5 1387.8 L1335.5 1387.9 L1375.5 1388.1 L1415.5 1388.2 L1455.5 1388.2 L1495.5 1388.3 L1535.5 1388.4 L1575.5 1388.4 L1615.5 1388.4 L1655.5 1388.5 L1695.5 1388.5 L1735.5 1388.5 L1775.5 1388.5 L1815.5 1388.6 L1855.5 1388.6 L1895.5 1388.6 L1935.5 1388.6 L1963.2 1388.6" stroke="#8a2be2"/>
<path d="M990.1 1231.6 L986.9 1203.8 L987.4 1170.1 L987.5 1115.3 L987.8 1005.6 L988.0 895.9 L988.1 797.2 L988.4 676.5 L988.6 512.0 L988.8 402.3 L989.0 292.6 L991.2 292.6 L991.4 402.3 L991.6 512.0 L991.8 676.5 L992.1 797.2 L992.2 895.9 L992.4 1005.6 L992.7 1115.3 L992.9 1170.1 L993.3 1203.8Z" fill="#8a2be2" stroke="none"/>
<path d="M250.5 1388.1 L338.0 1388.1 L588.0 1387.8 L738.0 1387.3 L818.0 1386.8 L873.0 1386.0 L914.0 1385.0 L933.0 1384.3 L949.0 1383.4 L963.0 1382.3 L973.0 1381.3 L984.0 1379.9 L991.0 1378.2 L998.0 1375.8 L1004.0 1373.6 L1008.0 1371.5 L1012.0 1368.7 L1016.0 1364.9 L1019.0 1361.0 L1022.0 1355.3 L1024.0 1350.0 L1025.5 1345.8 L1027.0 1340.5 L1028.5 1333.6 L1029.5 1327.6 L1030.5 1320.2 L1031.4 1311.6 L1032.1 1302.3 L1032.8 1290.5 L1033.3 1278.7 L1033.7 1265.8 L1034.1 1247.4 L1034.5 1223.9 L1034.8 1201.9 L1035.0 1188.6 L1035.2 1169.0 L1035.5 1092.7 L1035.7 1004.5 L1035.9 900.9 L1036.0 796.1 L1036.5 510.9 L1036.9 291.5 L1038.0 291.5 L1039.1 291.5 L1039.5 510.9 L1040.0 796.1 L1040.1 900.9 L1040.3 1004.5 L1040.5 1092.7 L1040.8 1169.0 L1041.0 1188.6 L1041.2 1201.9 L1041.5 1223.9 L1041.9 1247.4 L1042.3 1265.8 L1042.7 1278.7 L1043.2 1290.5 L1043.9 1302.3 L1044.6 1311.6 L1045.5 1320.2 L1046.5 1327.6 L1047.5 1333.6 L1049.0 1340.5 L1050.5 1345.8 L1052.0 1350.0 L1054.0 1355.3 L1057.0 1361.0 L1060.0 1364.9 L1064.0 1368.7 L1068.0 1371.5 L1072.0 1373.6 L1078.0 1375.8 L1085.0 1378.2 L1092.0 1379.9 L1103.0 1381.3 L1113.0 1382.3 L1127.0 1383.4 L1143.0 1384.3 L1162.0 1385.0 L1203.0 1386.0 L1258.0 1386.8 L1338.0 1387.3 L1488.0 1387.8 L1738.0 1388.1 L1963.2 1388.2" stroke="#651d00"/>
<path d="M1038.0 1228.4 L1034.8 1199.9 L1035.2 1170.1 L1035.4 1115.3 L1035.7 1005.6 L1035.9 895.9 L1036.0 797.2 L1036.3 676.5 L1036.5 512.0 L1036.7 402.3 L1036.9 292.6 L1039.1 292.6 L1039.3 402.3 L1039.5 512.0 L1039.7 676.5 L1040.0 797.2 L1040.1 895.9 L1040.3 1005.6 L1040.6 1115.3 L1040.8 1170.1 L1041.2 1199.9Z" fill="#651d00" stroke="none"/>
<path d="M250.5 1388.2 L385.8 1388.1 L635.8 1387.8 L785.8 1387.4 L865.8 1386.8 L920.8 1386.1 L961.8 1385.1 L980.8 1384.3 L996.8 1383.4 L1010.8 1382.4 L1020.8 1381.4 L1031.8 1379.9 L1038.8 1378.2 L1045.8 1375.9 L1051.8 1373.7 L1055.8 1371.5 L1059.8 1368.7 L1063.8 1365.0 L1066.8 1361.1 L1069.8 1355.3 L1071.8 1350.1 L1073.3 1345.9 L1074.8 1340.6 L1076.3 1333.6 L1077.3 1327.7 L1078.3 1320.2 L1079.2 1311.7 L1079.9 1302.4 L1080.6 1290.6 L1081.1 1278.8 L1081.5 1265.8 L1081.9 1247.5 L1082.3 1223.9 L1082.6 1202.0 L1082.8 1188.6 L1083.0 1169.1 L1083.3 1092.8 L1083.5 1004.6 L1083.7 900.9 L1083.8 796.2 L1084.2 511.0 L1084.7 291.6 L1085.8 291.6 L1086.9 291.6 L1087.3 511.0 L1087.8 796.2 L1087.9 900.9 L1088.1 1004.6 L1088.3 1092.8 L1088.5 1169.1 L1088.8 1188.6 L1089.0 1202.0 L1089.3 1223.9 L1089.7 1247.5 L1090.1 1265.8 L1090.5 1278.8 L1091.0 1290.6 L1091.7 1302.4 L1092.4 1311.7 L1093.3 1320.2 L1094.3 1327.7 L1095.3 1333.6 L1096.8 1340.6 L1098.3 1345.9 L1099.8 1350.1 L1101.8 1355.3 L1104.8 1361.1 L1107.8 1365.0 L1111.8 1368.7 L1115.8 1371.5 L1119.8 1373.7 L1125.8 1375.9 L1132.8 1378.2 L1139.8 1379.9 L1150.8 1381.4 L1160.8 1382.4 L1174.8 1383.4 L1190.8 1384.3 L1209.8 1385.1 L1250.8 1386.1 L1305.8 1386.8 L1385.8 1387.4 L1535.8 1387.8 L1785.8 1388.1 L1963.2 1388.2" stroke="#ff80b0"/>
<path d="M1085.8 1215.2 L1082.9 1184.4 L1083.0 1170.1 L1083.2 1115.3 L1083.5 1005.6 L1083.7 895.9 L1083.8 797.2 L1084.1 676.5 L1084.2 512.0 L1084.5 402.3 L1084.7 292.6 L1086.9 292.6 L1087.1 402.3 L1087.3 512.0 L1087.5 676.5 L1087.8 797.2 L1087.9 895.9 L1088.1 1005.6 L1088.4 1115.3 L1088.5 1170.1 L1088.7 1184.4Z" fill="#ff80b0" stroke="none"/>
<path d="M250.5 1387.8 L437.8 1387.7 L687.8 1387.4 L837.8 1386.9 L917.8 1386.4 L972.8 1385.6 L1013.8 1384.6 L1032.8 1383.9 L1048.8 1383.0 L1062.8 1381.9 L1072.8 1380.9 L1083.8 1379.5 L1090.8 1377.8 L1097.8 1375.4 L1103.8 1373.2 L1107.8 1371.1 L1111.8 1368.3 L1115.8 1364.5 L1118.8 1360.6 L1121.8 1354.9 L1123.8 1349.6 L1125.3 1345.4 L1126.8 1340.1 L1128.3 1333.2 L1129.3 1327.2 L1130.3 1319.8 L1131.2 1311.2 L1131.9 1301.9 L1132.6 1290.1 L1133.1 1278.3 L1133.5 1265.4 L1133.9 1247.0 L1134.3 1223.5 L1134.6 1201.5 L1134.8 1188.2 L1135.0 1168.6 L1135.3 1092.3 L1135.5 1004.1 L1135.7 900.5 L1135.8 795.7 L1136.2 510.5 L1136.7 291.1 L1137.8 291.1 L1138.9 291.1 L1139.3 510.5 L1139.8 795.7 L1139.9 900.5 L1140.1 1004.1 L1140.3 1092.3 L1140.5 1168.6 L1140.8 1188.2 L1141.0 1201.5 L1141.3 1223.5 L1141.7 1247.0 L1142.1 1265.4 L1142.5 1278.3 L1143.0 1290.1 L1143.7 1301.9 L1144.4 1311.2 L1145.3 1319.8 L1146.3 1327.2 L1147.3 1333.2 L1148.8 1340.1 L1150.3 1345.4 L1151.8 1349.6 L1153.8 1354.9 L1156.8 1360.6 L1159.8 1364.5 L1163.8 1368.3 L1167.8 1371.1 L1171.8 1373.2 L1177.8 1375.4 L1184.8 1377.8 L1191.8 1379.5 L1202.8 1380.9 L1212.8 1381.9 L1226.8 1383.0 L1242.8 1383.9 L1261.8 1384.6 L1302.8 1385.6 L1357.8 1386.4 L1437.8 1386.9 L1587.8 1387.4 L1837.8 1387.7 L1963.2 1387.7" stroke="#888888"/>
<path d="M1137.8 1204.7 L1135.0 1172.1 L1135.0 1170.1 L1135.2 1115.3 L1135.5 1005.6 L1135.7 895.9 L1135.8 797.2 L1136.1 676.5 L1136.2 512.0 L1136.5 402.3 L1136.7 292.6 L1138.9 292.6 L1139.1 402.3 L1139.3 512.0 L1139.5 676.5 L1139.8 797.2 L1139.9 895.9 L1140.1 1005.6 L1140.4 1115.3 L1140.5 1170.1 L1140.6 1172.1Z" fill="#888888" stroke="none"/>
<path d="M250.5 1388.0 L485.3 1387.9 L735.3 1387.6 L885.3 1387.1 L965.3 1386.6 L1020.3 1385.8 L1061.3 1384.8 L1080.3 1384.1 L1096.3 1383.2 L1110.3 1382.1 L1120.3 1381.1 L1131.3 1379.7 L1138.3 1378.0 L1145.3 1375.6 L1151.3 1373.4 L1155.3 1371.3 L1159.3 1368.5 L1163.3 1364.7 L1166.3 1360.8 L1169.3 1355.1 L1171.3 1349.8 L1172.8 1345.6 L1174.3 1340.3 L1175.8 1333.4 L1176.8 1327.4 L1177.8 1320.0 L1178.7 1311.4 L1179.4 1302.1 L1180.1 1290.3 L1180.6 1278.5 L1181.0 1265.6 L1181.4 1247.2 L1181.8 1223.7 L1182.1 1201.7 L1182.3 1188.4 L1182.5 1168.8 L1182.8 1092.5 L1183.0 1004.3 L1183.2 900.7 L1183.3 795.9 L1183.8 510.7 L1184.2 291.3 L1185.3 291.3 L1186.4 291.3 L1186.8 510.7 L1187.2 795.9 L1187.4 900.7 L1187.6 1004.3 L1187.8 1092.5 L1188.0 1168.8 L1188.3 1188.4 L1188.5 1201.7 L1188.8 1223.7 L1189.2 1247.2 L1189.6 1265.6 L1190.0 1278.5 L1190.5 1290.3 L1191.2 1302.1 L1191.9 1311.4 L1192.8 1320.0 L1193.8 1327.4 L1194.8 1333.4 L1196.3 1340.3 L1197.8 1345.6 L1199.3 1349.8 L1201.3 1355.1 L1204.3 1360.8 L1207.3 1364.7 L1211.3 1368.5 L1215.3 1371.3 L1219.3 1373.4 L1225.3 1375.6 L1232.3 1378.0 L1239.3 1379.7 L1250.3 1381.1 L1260.3 1382.1 L1274.3 1383.2 L1290.3 1384.1 L1309.3 1384.8 L1350.3 1385.8 L1405.3 1386.6 L1485.3 1387.1 L1635.3 1387.6 L1885.3 1387.9 L1963.2 1387.9" stroke="#cccc00"/>
<path d="M1185.3 1216.8 L1182.3 1186.4 L1182.5 1170.1 L1182.7 1115.3 L1183.0 1005.6 L1183.2 895.9 L1183.3 797.2 L1183.6 676.5 L1183.8 512.0 L1184.0 402.3 L1184.2 292.6 L1186.4 292.6 L1186.6 402.3 L1186.8 512.0 L1187.0 676.5 L1187.2 797.2 L1187.4 895.9 L1187.6 1005.6 L1187.9 1115.3 L1188.0 1170.1 L1188.3 1186.4Z" fill="#cccc00" stroke="none"/>
<path d="M250.5 1388.6 L536.4 1388.4 L786.4 1388.2 L936.4 1387.7 L1016.4 1387.1 L1071.4 1386.4 L1112.4 1385.4 L1131.4 1384.6 L1147.4 1383.7 L1161.4 1382.7 L1171.4 1381.7 L1182.4 1380.2 L1189.4 1378.6 L1196.4 1376.2 L1202.4 1374.0 L1206.4 1371.9 L1210.4 1369.0 L1214.4 1365.3 L1217.4 1361.4 L1220.4 1355.7 L1222.4 1350.4 L1223.9 1346.2 L1225.4 1340.9 L1226.9 1333.9 L1227.9 1328.0 L1228.9 1320.6 L1229.8 1312.0 L1230.5 1302.7 L1231.2 1290.9 L1231.8 1279.1 L1232.1 1266.1 L1232.5 1247.8 L1232.9 1224.3 L1233.2 1202.3 L1233.4 1189.0 L1233.7 1169.4 L1233.9 1093.1 L1234.1 1004.9 L1234.3 901.2 L1234.5 796.5 L1234.9 511.3 L1235.3 291.9 L1236.4 291.9 L1237.5 291.9 L1238.0 511.3 L1238.4 796.5 L1238.5 901.2 L1238.7 1004.9 L1238.9 1093.1 L1239.2 1169.4 L1239.4 1189.0 L1239.6 1202.3 L1239.9 1224.3 L1240.3 1247.8 L1240.7 1266.1 L1241.1 1279.1 L1241.6 1290.9 L1242.3 1302.7 L1243.0 1312.0 L1243.9 1320.6 L1244.9 1328.0 L1245.9 1333.9 L1247.4 1340.9 L1248.9 1346.2 L1250.4 1350.4 L1252.4 1355.7 L1255.4 1361.4 L1258.4 1365.3 L1262.4 1369.0 L1266.4 1371.9 L1270.4 1374.0 L1276.4 1376.2 L1283.4 1378.6 L1290.4 1380.2 L1301.4 1381.7 L1311.4 1382.7 L1325.4 1383.7 L1341.4 1384.6 L1360.4 1385.4 L1401.4 1386.4 L1456.4 1387.1 L1536.4 1387.7 L1686.4 1388.2 L1936.4 1388.4 L1963.2 1388.5" stroke="#00c8c8"/>
<path d="M1236.4 1222.7 L1233.3 1193.3 L1233.7 1170.1 L1233.8 1115.3 L1234.1 1005.6 L1234.3 895.9 L1234.5 797.2 L1234.7 676.5 L1234.9 512.0 L1235.1 402.3 L1235.3 292.6 L1237.5 292.6 L1237.7 402.3 L1238.0 512.0 L1238.1 676.5 L1238.4 797.2 L1238.5 895.9 L1238.7 1005.6 L1239.0 1115.3 L1239.2 1170.1 L1239.5 1193.3Z" fill="#00c8c8" stroke="none"/>
<path d="M250.5 1387.7 L284.0 1387.7 L584.0 1387.5 L834.0 1387.2 L984.0 1386.8 L1064.0 1386.2 L1119.0 1385.5 L1160.0 1384.5 L1179.0 1383.7 L1195.0 1382.8 L1209.0 1381.8 L1219.0 1380.8 L1230.0 1379.3 L1237.0 1377.6 L1244.0 1375.3 L1250.0 1373.1 L1254.0 1370.9 L1258.0 1368.1 L1262.0 1364.4 L1265.0 1360.5 L1268.0 1354.7 L1270.0 1349.5 L1271.5 1345.3 L1273.0 1340.0 L1274.5 1333.0 L1275.5 1327.1 L1276.5 1319.7 L1277.4 1311.1 L1278.1 1301.8 L1278.8 1290.0 L1279.3 1278.2 L1279.7 1265.2 L1280.1 1246.9 L1280.5 1223.3 L1280.8 1201.4 L1281.0 1188.0 L1281.2 1168.5 L1281.5 1092.2 L1281.7 1004.0 L1281.9 900.3 L1282.0 795.6 L1282.5 510.4 L1282.9 291.0 L1284.0 291.0 L1285.1 291.0 L1285.5 510.4 L1286.0 795.6 L1286.1 900.3 L1286.3 1004.0 L1286.5 1092.2 L1286.8 1168.5 L1287.0 1188.0 L1287.2 1201.4 L1287.5 1223.3 L1287.9 1246.9 L1288.3 1265.2 L1288.7 1278.2 L1289.2 1290.0 L1289.9 1301.8 L1290.6 1311.1 L1291.5 1319.7 L1292.5 1327.1 L1293.5 1333.0 L1295.0 1340.0 L1296.5 1345.3 L1298.0 1349.5 L1300.0 1354.7 L1303.0 1360.5 L1306.0 1364.4 L1310.0 1368.1 L1314.0 1370.9 L1318.0 1373.1 L1324.0 1375.3 L1331.0 1377.6 L1338.0 1379.3 L1349.0 1380.8 L1359.0 1381.8 L1373.0 1382.8 L1389.0 1383.7 L1408.0 1384.5 L1449.0 1385.5 L1504.0 1386.2 L1584.0 1386.8 L1734.0 1387.2 L1963.2 1387.5" stroke="#0433ff"/>
<path d="M1284.0 1203.8 L1281.2 1171.0 L1281.2 1170.1 L1281.4 1115.3 L1281.7 1005.6 L1281.9 895.9 L1282.0 797.2 L1282.3 676.5 L1282.5 512.0 L1282.7 402.3 L1282.9 292.6 L1285.1 292.6 L1285.3 402.3 L1285.5 512.0 L1285.7 676.5 L1286.0 797.2 L1286.1 895.9 L1286.3 1005.6 L1286.6 1115.3 L1286.8 1170.1 L1286.8 1171.0Z" fill="#0433ff" stroke="none"/>
<path d="M250.5 1388.8 L335.9 1388.8 L635.9 1388.7 L885.9 1388.4 L1035.9 1387.9 L1115.9 1387.4 L1170.9 1386.6 L1211.9 1385.6 L1230.9 1384.9 L1246.9 1384.0 L1260.9 1382.9 L1270.9 1381.9 L1281.9 1380.5 L1288.9 1378.8 L1295.9 1376.4 L1301.9 1374.2 L1305.9 1372.1 L1309.9 1369.3 L1313.9 1365.5 L1316.9 1361.6 L1319.9 1355.9 L1321.9 1350.6 L1323.4 1346.4 L1324.9 1341.1 L1326.4 1334.2 L1327.4 1328.2 L1328.4 1320.8 L1329.3 1312.2 L1330.0 1302.9 L1330.7 1291.1 L1331.2 1279.3 L1331.6 1266.4 L1332.0 1248.0 L1332.4 1224.5 L1332.7 1202.5 L1332.9 1189.2 L1333.2 1169.6 L1333.4 1093.3 L1333.6 1005.1 L1333.8 901.5 L1334.0 796.7 L1334.4 511.5 L1334.8 292.1 L1335.9 292.1 L1337.0 292.1 L1337.5 511.5 L1337.9 796.7 L1338.0 901.5 L1338.2 1005.1 L1338.4 1093.3 L1338.7 1169.6 L1338.9 1189.2 L1339.1 1202.5 L1339.4 1224.5 L1339.8 1248.0 L1340.2 1266.4 L1340.6 1279.3 L1341.1 1291.1 L1341.8 1302.9 L1342.5 1312.2 L1343.4 1320.8 L1344.4 1328.2 L1345.4 1334.2 L1346.9 1341.1 L1348.4 1346.4 L1349.9 1350.6 L1351.9 1355.9 L1354.9 1361.6 L1357.9 1365.5 L1361.9 1369.3 L1365.9 1372.1 L1369.9 1374.2 L1375.9 1376.4 L1382.9 1378.8 L1389.9 1380.5 L1400.9 1381.9 L1410.9 1382.9 L1424.9 1384.0 L1440.9 1384.9 L1459.9 1385.6 L1500.9 1386.6 L1555.9 1387.4 L1635.9 1387.9 L1785.9 1388.4 L1963.2 1388.6" stroke="#ffa500"/>
<path d="M1335.9 1234.1 L1332.7 1206.7 L1333.2 1170.1 L1333.3 1115.3 L1333.6 1005.6 L1333.8 895.9 L1334.0 797.2 L1334.2 676.5 L1334.4 512.0 L1334.6 402.3 L1334.8 292.6 L1337.0 292.6 L1337.2 402.3 L1337.5 512.0 L1337.6 676.5 L1337.9 797.2 L1338.0 895.9 L1338.2 1005.6 L1338.5 1115.3 L1338.7 1170.1 L1339.1 1206.7Z" fill="#ffa500" stroke="none"/>
<path d="M1332.4 694.1 L1333.9 1313.8" stroke="#ffa500" stroke-width="3"/>
<path d="M250.5 1388.4 L380.5 1388.4 L680.5 1388.3 L930.5 1388.0 L1080.5 1387.5 L1160.5 1387.0 L1215.5 1386.2 L1256.5 1385.2 L1275.5 1384.5 L1291.5 1383.6 L1305.5 1382.5 L1315.5 1381.5 L1326.5 1380.1 L1333.5 1378.4 L1340.5 1376.0 L1346.5 1373.8 L1350.5 1371.7 L1354.5 1368.9 L1358.5 1365.1 L1361.5 1361.2 L1364.5 1355.5 L1366.5 1350.2 L1368.0 1346.0 L1369.5 1340.7 L1371.0 1333.8 L1372.0 1327.8 L1373.0 1320.4 L1373.9 1311.8 L1374.6 1302.5 L1375.3 1290.7 L1375.8 1278.9 L1376.2 1266.0 L1376.6 1247.6 L1377.0 1224.1 L1377.3 1202.1 L1377.5 1188.8 L1377.8 1169.2 L1378.0 1092.9 L1378.2 1004.7 L1378.4 901.1 L1378.5 796.3 L1379.0 511.1 L1379.4 291.7 L1380.5 291.7 L1381.6 291.7 L1382.0 511.1 L1382.5 796.3 L1382.6 901.1 L1382.8 1004.7 L1383.0 1092.9 L1383.2 1169.2 L1383.5 1188.8 L1383.7 1202.1 L1384.0 1224.1 L1384.4 1247.6 L1384.8 1266.0 L1385.2 1278.9 L1385.7 1290.7 L1386.4 1302.5 L1387.1 1311.8 L1388.0 1320.4 L1389.0 1327.8 L1390.0 1333.8 L1391.5 1340.7 L1393.0 1346.0 L1394.5 1350.2 L1396.5 1355.5 L1399.5 1361.2 L1402.5 1365.1 L1406.5 1368.9 L1410.5 1371.7 L1414.5 1373.8 L1420.5 1376.0 L1427.5 1378.4 L1434.5 1380.1 L1445.5 1381.5 L1455.5 1382.5 L1469.5 1383.6 L1485.5 1384.5 L1504.5 1385.2 L1545.5 1386.2 L1600.5 1387.0 L1680.5 1387.5 L1830.5 1388.0 L1963.2 1388.2" stroke="#00c800"/>
<path d="M1380.5 1207.6 L1377.7 1175.6 L1377.8 1170.1 L1377.9 1115.3 L1378.2 1005.6 L1378.4 895.9 L1378.5 797.2 L1378.8 676.5 L1379.0 512.0 L1379.2 402.3 L1379.4 292.6 L1381.6 292.6 L1381.8 402.3 L1382.0 512.0 L1382.2 676.5 L1382.5 797.2 L1382.6 895.9 L1382.8 1005.6 L1383.1 1115.3 L1383.2 1170.1 L1383.3 1175.6Z" fill="#00c800" stroke="none"/>
<path d="M250.5 1390.6 L431.9 1390.6 L731.9 1390.5 L981.9 1390.2 L1131.9 1389.7 L1211.9 1389.2 L1266.9 1388.4 L1307.9 1387.4 L1326.9 1386.7 L1342.9 1385.8 L1356.9 1384.7 L1366.9 1383.7 L1377.9 1382.3 L1384.9 1380.6 L1391.9 1378.2 L1397.9 1376.0 L1401.9 1373.9 L1405.9 1371.1 L1409.9 1367.3 L1412.9 1363.4 L1415.9 1357.7 L1417.9 1352.4 L1419.4 1348.2 L1420.9 1342.9 L1422.4 1336.0 L1423.4 1330.0 L1424.4 1322.6 L1425.3 1314.0 L1426.0 1304.7 L1426.7 1292.9 L1427.2 1281.1 L1427.6 1268.2 L1428.0 1249.8 L1428.4 1226.3 L1428.7 1204.3 L1428.9 1191.0 L1429.2 1171.4 L1429.4 1095.1 L1429.6 1006.9 L1429.8 903.3 L1430.0 798.5 L1430.4 513.3 L1430.8 293.9 L1431.9 293.9 L1433.0 293.9 L1433.5 513.3 L1433.9 798.5 L1434.0 903.3 L1434.2 1006.9 L1434.4 1095.1 L1434.7 1171.4 L1434.9 1191.0 L1435.1 1204.3 L1435.4 1226.3 L1435.8 1249.8 L1436.2 1268.2 L1436.6 1281.1 L1437.1 1292.9 L1437.8 1304.7 L1438.5 1314.0 L1439.4 1322.6 L1440.4 1330.0 L1441.4 1336.0 L1442.9 1342.9 L1444.4 1348.2 L1445.9 1352.4 L1447.9 1357.7 L1450.9 1363.4 L1453.9 1367.3 L1457.9 1371.1 L1461.9 1373.9 L1465.9 1376.0 L1471.9 1378.2 L1478.9 1380.6 L1485.9 1382.3 L1496.9 1383.7 L1506.9 1384.7 L1520.9 1385.8 L1536.9 1386.7 L1555.9 1387.4 L1596.9 1388.4 L1651.9 1389.2 L1731.9 1389.7 L1881.9 1390.2 L1963.2 1390.3" stroke="#ff0000"/>
<path d="M1431.9 1226.2 L1428.8 1197.4 L1429.2 1170.1 L1429.3 1115.3 L1429.6 1005.6 L1429.8 895.9 L1430.0 797.2 L1430.2 676.5 L1430.4 512.0 L1430.6 402.3 L1430.8 292.6 L1433.0 292.6 L1433.2 402.3 L1433.5 512.0 L1433.6 676.5 L1433.9 797.2 L1434.0 895.9 L1434.2 1005.6 L1434.5 1115.3 L1434.7 1170.1 L1435.0 1197.4Z" fill="#ff0000" stroke="none"/>
<path d="M250.5 1388.8 L483.6 1388.8 L783.6 1388.6 L1033.6 1388.3 L1183.6 1387.9 L1263.6 1387.3 L1318.6 1386.6 L1359.6 1385.6 L1378.6 1384.8 L1394.6 1383.9 L1408.6 1382.9 L1418.6 1381.9 L1429.6 1380.4 L1436.6 1378.7 L1443.6 1376.4 L1449.6 1374.2 L1453.6 1372.0 L1457.6 1369.2 L1461.6 1365.5 L1464.6 1361.5 L1467.6 1355.8 L1469.6 1350.6 L1471.1 1346.4 L1472.6 1341.0 L1474.1 1334.1 L1475.1 1328.2 L1476.1 1320.7 L1477.0 1312.2 L1477.7 1302.9 L1478.4 1291.1 L1478.9 1279.3 L1479.3 1266.3 L1479.7 1248.0 L1480.1 1224.4 L1480.4 1202.5 L1480.6 1189.1 L1480.8 1169.6 L1481.1 1093.3 L1481.3 1005.1 L1481.5 901.4 L1481.6 796.6 L1482.0 511.5 L1482.5 292.1 L1483.6 292.1 L1484.7 292.1 L1485.1 511.5 L1485.5 796.6 L1485.7 901.4 L1485.9 1005.1 L1486.1 1093.3 L1486.3 1169.6 L1486.6 1189.1 L1486.8 1202.5 L1487.1 1224.4 L1487.5 1248.0 L1487.9 1266.3 L1488.2 1279.3 L1488.8 1291.1 L1489.5 1302.9 L1490.2 1312.2 L1491.1 1320.7 L1492.1 1328.2 L1493.1 1334.1 L1494.6 1341.0 L1496.1 1346.4 L1497.6 1350.6 L1499.6 1355.8 L1502.6 1361.5 L1505.6 1365.5 L1509.6 1369.2 L1513.6 1372.0 L1517.6 1374.2 L1523.6 1376.4 L1530.6 1378.7 L1537.6 1380.4 L1548.6 1381.9 L1558.6 1382.9 L1572.6 1383.9 L1588.6 1384.8 L1607.6 1385.6 L1648.6 1386.6 L1703.6 1387.3 L1783.6 1387.9 L1933.6 1388.3 L1963.2 1388.4" stroke="#8a2be2"/>
<path d="M1483.6 1231.0 L1480.4 1203.0 L1480.8 1170.1 L1481.0 1115.3 L1481.3 1005.6 L1481.5 895.9 L1481.6 797.2 L1481.9 676.5 L1482.0 512.0 L1482.3 402.3 L1482.5 292.6 L1484.7 292.6 L1484.9 402.3 L1485.1 512.0 L1485.3 676.5 L1485.5 797.2 L1485.7 895.9 L1485.9 1005.6 L1486.2 1115.3 L1486.3 1170.1 L1486.8 1203.0Z" fill="#8a2be2" stroke="none"/>
<path d="M250.5 1388.4 L534.7 1388.3 L834.7 1388.2 L1084.7 1387.9 L1234.7 1387.4 L1314.7 1386.9 L1369.7 1386.1 L1410.7 1385.1 L1429.7 1384.4 L1445.7 1383.5 L1459.7 1382.4 L1469.7 1381.4 L1480.7 1380.0 L1487.7 1378.3 L1494.7 1375.9 L1500.7 1373.7 L1504.7 1371.6 L1508.7 1368.8 L1512.7 1365.0 L1515.7 1361.1 L1518.7 1355.4 L1520.7 1350.1 L1522.2 1345.9 L1523.7 1340.6 L1525.2 1333.7 L1526.2 1327.7 L1527.2 1320.3 L1528.1 1311.7 L1528.8 1302.5 L1529.5 1290.6 L1530.0 1278.8 L1530.4 1265.9 L1530.8 1247.5 L1531.2 1224.0 L1531.5 1202.1 L1531.7 1188.7 L1532.0 1169.1 L1532.2 1092.8 L1532.4 1004.6 L1532.6 901.0 L1532.8 796.2 L1533.2 511.0 L1533.6 291.6 L1534.7 291.6 L1535.8 291.6 L1536.2 511.0 L1536.7 796.2 L1536.8 901.0 L1537.0 1004.6 L1537.2 1092.8 L1537.5 1169.1 L1537.7 1188.7 L1537.9 1202.1 L1538.2 1224.0 L1538.6 1247.5 L1539.0 1265.9 L1539.4 1278.8 L1539.9 1290.6 L1540.6 1302.5 L1541.3 1311.7 L1542.2 1320.3 L1543.2 1327.7 L1544.2 1333.7 L1545.7 1340.6 L1547.2 1345.9 L1548.7 1350.1 L1550.7 1355.4 L1553.7 1361.1 L1556.7 1365.0 L1560.7 1368.8 L1564.7 1371.6 L1568.7 1373.7 L1574.7 1375.9 L1581.7 1378.3 L1588.7 1380.0 L1599.7 1381.4 L1609.7 1382.4 L1623.7 1383.5 L1639.7 1384.4 L1658.7 1385.1 L1699.7 1386.1 L1754.7 1386.9 L1834.7 1387.4 L1963.2 1387.8" stroke="#651d00"/>
<path d="M1534.7 1231.8 L1531.5 1204.0 L1532.0 1170.1 L1532.1 1115.3 L1532.4 1005.6 L1532.6 895.9 L1532.8 797.2 L1533.0 676.5 L1533.2 512.0 L1533.4 402.3 L1533.6 292.6 L1535.8 292.6 L1536.0 402.3 L1536.2 512.0 L1536.4 676.5 L1536.7 797.2 L1536.8 895.9 L1537.0 1005.6 L1537.3 1115.3 L1537.5 1170.1 L1537.9 1204.0Z" fill="#651d00" stroke="none"/>
<path d="M250.5 1389.0 L589.9 1388.9 L889.9 1388.8 L1139.9 1388.5 L1289.9 1388.0 L1369.9 1387.5 L1424.9 1386.7 L1465.9 1385.7 L1484.9 1385.0 L1500.9 1384.1 L1514.9 1383.0 L1524.9 1382.0 L1535.9 1380.6 L1542.9 1378.9 L1549.9 1376.5 L1555.9 1374.3 L1559.9 1372.2 L1563.9 1369.4 L1567.9 1365.6 L1570.9 1361.7 L1573.9 1356.0 L1575.9 1350.7 L1577.4 1346.5 L1578.9 1341.2 L1580.4 1334.3 L1581.4 1328.3 L1582.4 1320.9 L1583.3 1312.3 L1584.0 1303.0 L1584.7 1291.2 L1585.2 1279.4 L1585.6 1266.5 L1586.0 1248.1 L1586.4 1224.6 L1586.7 1202.6 L1586.9 1189.3 L1587.2 1169.7 L1587.4 1093.4 L1587.6 1005.2 L1587.8 901.6 L1588.0 796.8 L1588.4 511.6 L1588.8 292.2 L1589.9 292.2 L1591.0 292.2 L1591.5 511.6 L1591.9 796.8 L1592.0 901.6 L1592.2 1005.2 L1592.4 1093.4 L1592.7 1169.7 L1592.9 1189.3 L1593.1 1202.6 L1593.4 1224.6 L1593.8 1248.1 L1594.2 1266.5 L1594.6 1279.4 L1595.1 1291.2 L1595.8 1303.0 L1596.5 1312.3 L1597.4 1320.9 L1598.4 1328.3 L1599.4 1334.3 L1600.9 1341.2 L1602.4 1346.5 L1603.9 1350.7 L1605.9 1356.0 L1608.9 1361.7 L1611.9 1365.6 L1615.9 1369.4 L1619.9 1372.2 L1623.9 1374.3 L1629.9 1376.5 L1636.9 1378.9 L1643.9 1380.6 L1654.9 1382.0 L1664.9 1383.0 L1678.9 1384.1 L1694.9 1385.0 L1713.9 1385.7 L1754.9 1386.7 L1809.9 1387.5 L1889.9 1388.0 L1963.2 1388.3" stroke="#ff80b0"/>
<path d="M1589.9 1225.6 L1586.8 1196.7 L1587.2 1170.1 L1587.3 1115.3 L1587.6 1005.6 L1587.8 895.9 L1588.0 797.2 L1588.2 676.5 L1588.4 512.0 L1588.6 402.3 L1588.8 292.6 L1591.0 292.6 L1591.2 402.3 L1591.5 512.0 L1591.6 676.5 L1591.9 797.2 L1592.0 895.9 L1592.2 1005.6 L1592.5 1115.3 L1592.7 1170.1 L1593.0 1196.7Z" fill="#ff80b0" stroke="none"/>
<path d="M250.5 1388.0 L703.5 1387.9 L1003.5 1387.8 L1253.5 1387.5 L1403.5 1387.1 L1483.5 1386.5 L1538.5 1385.8 L1579.5 1384.8 L1598.5 1384.0 L1614.5 1383.1 L1628.5 1382.0 L1638.5 1381.1 L1649.5 1379.6 L1656.5 1377.9 L1663.5 1375.6 L1669.5 1373.4 L1673.5 1371.2 L1677.5 1368.4 L1681.5 1364.6 L1684.5 1360.7 L1687.5 1355.0 L1689.5 1349.8 L1691.0 1345.6 L1692.5 1340.2 L1694.0 1333.3 L1695.0 1327.4 L1696.0 1319.9 L1696.9 1311.4 L1697.6 1302.1 L1698.3 1290.3 L1698.8 1278.5 L1699.2 1265.5 L1699.6 1247.2 L1700.0 1223.6 L1700.3 1201.7 L1700.5 1188.3 L1700.8 1168.8 L1701.0 1092.5 L1701.2 1004.2 L1701.4 900.6 L1701.5 795.8 L1702.0 510.6 L1702.4 291.3 L1703.5 291.3 L1704.6 291.3 L1705.0 510.6 L1705.5 795.8 L1705.6 900.6 L1705.8 1004.2 L1706.0 1092.5 L1706.2 1168.8 L1706.5 1188.3 L1706.7 1201.7 L1707.0 1223.6 L1707.4 1247.2 L1707.8 1265.5 L1708.2 1278.5 L1708.7 1290.3 L1709.4 1302.1 L1710.1 1311.4 L1711.0 1319.9 L1712.0 1327.4 L1713.0 1333.3 L1714.5 1340.2 L1716.0 1345.6 L1717.5 1349.8 L1719.5 1355.0 L1722.5 1360.7 L1725.5 1364.6 L1729.5 1368.4 L1733.5 1371.2 L1737.5 1373.4 L1743.5 1375.6 L1750.5 1377.9 L1757.5 1379.6 L1768.5 1381.1 L1778.5 1382.0 L1792.5 1383.1 L1808.5 1384.0 L1827.5 1384.8 L1868.5 1385.8 L1923.5 1386.5 L1963.2 1386.8" stroke="#cccc00"/>
<path d="M1703.5 1229.8 L1700.3 1201.6 L1700.8 1170.1 L1700.9 1115.3 L1701.2 1005.6 L1701.4 895.9 L1701.5 797.2 L1701.8 676.5 L1702.0 512.0 L1702.2 402.3 L1702.4 292.6 L1704.6 292.6 L1704.8 402.3 L1705.0 512.0 L1705.2 676.5 L1705.5 797.2 L1705.6 895.9 L1705.8 1005.6 L1706.1 1115.3 L1706.2 1170.1 L1706.7 1201.6Z" fill="#cccc00" stroke="none"/>
<path d="M250.5 1388.9 L258.1 1388.9 L758.1 1388.8 L1058.1 1388.7 L1308.1 1388.4 L1458.1 1388.0 L1538.1 1387.4 L1593.1 1386.6 L1634.1 1385.7 L1653.1 1384.9 L1669.1 1384.0 L1683.1 1382.9 L1693.1 1382.0 L1704.1 1380.5 L1711.1 1378.8 L1718.1 1376.4 L1724.1 1374.3 L1728.1 1372.1 L1732.1 1369.3 L1736.1 1365.5 L1739.1 1361.6 L1742.1 1355.9 L1744.1 1350.7 L1745.6 1346.5 L1747.1 1341.1 L1748.6 1334.2 L1749.6 1328.3 L1750.6 1320.8 L1751.5 1312.3 L1752.2 1303.0 L1752.9 1291.2 L1753.4 1279.4 L1753.8 1266.4 L1754.2 1248.1 L1754.6 1224.5 L1754.9 1202.6 L1755.1 1189.2 L1755.3 1169.7 L1755.6 1093.4 L1755.8 1005.1 L1756.0 901.5 L1756.1 796.7 L1756.5 511.5 L1757.0 292.2 L1758.1 290.8 L1759.2 290.8 L1759.6 510.2 L1760.0 795.4 L1760.2 900.2 L1760.4 1003.8 L1760.6 1092.1 L1760.8 1168.4 L1761.1 1187.9 L1761.3 1201.3 L1761.6 1223.2 L1762.0 1246.8 L1762.4 1265.1 L1762.8 1278.1 L1763.3 1289.9 L1764.0 1301.7 L1764.7 1311.0 L1765.6 1319.5 L1766.6 1327.0 L1767.6 1332.9 L1769.1 1339.8 L1770.6 1345.1 L1772.1 1349.4 L1774.1 1354.6 L1777.1 1360.3 L1780.1 1364.2 L1784.1 1368.0 L1788.1 1370.8 L1792.1 1372.9 L1798.1 1375.1 L1805.1 1377.5 L1812.1 1379.2 L1823.1 1380.7 L1833.1 1381.6 L1847.1 1382.7 L1863.1 1383.6 L1882.1 1384.3 L1923.1 1385.3 L1963.2 1385.9" stroke="#00c8c8"/>
<path d="M1758.1 1216.7 L1755.1 1186.2 L1755.3 1170.1 L1755.5 1115.3 L1755.8 1005.6 L1756.0 895.9 L1756.1 797.2 L1756.4 676.5 L1756.5 512.0 L1756.8 402.3 L1757.0 292.6 L1759.2 292.6 L1759.4 402.3 L1759.6 512.0 L1759.8 676.5 L1760.0 797.2 L1760.2 895.9 L1760.4 1005.6 L1760.7 1115.3 L1760.8 1170.1 L1761.1 1186.2Z" fill="#00c8c8" stroke="none"/>
<path d="M250.5 1388.9 L644.8 1388.8 L944.8 1388.7 L1194.8 1388.4 L1344.8 1388.0 L1424.8 1387.4 L1479.8 1386.6 L1520.8 1385.7 L1539.8 1384.9 L1555.8 1384.0 L1569.8 1382.9 L1579.8 1382.0 L1590.8 1380.5 L1597.8 1378.8 L1604.8 1376.4 L1610.8 1374.3 L1614.8 1372.1 L1618.8 1369.3 L1622.8 1365.5 L1625.8 1361.6 L1628.8 1355.9 L1630.8 1350.7 L1632.3 1346.5 L1633.8 1341.1 L1635.3 1334.2 L1636.3 1328.3 L1637.3 1320.8 L1638.2 1312.3 L1638.9 1303.0 L1639.6 1291.2 L1640.1 1279.4 L1640.5 1266.4 L1640.9 1248.1 L1641.3 1224.5 L1641.6 1202.6 L1641.8 1189.2 L1642.0 1169.7 L1642.3 1093.4 L1642.5 1005.1 L1642.7 901.5 L1642.8 796.7 L1643.2 511.5 L1643.7 292.2 L1644.8 292.2 L1645.9 292.2 L1646.3 511.5 L1646.8 796.7 L1646.9 901.5 L1647.1 1005.1 L1647.3 1093.4 L1647.5 1169.7 L1647.8 1189.2 L1648.0 1202.6 L1648.3 1224.5 L1648.7 1248.1 L1649.1 1266.4 L1649.5 1279.4 L1650.0 1291.2 L1650.7 1303.0 L1651.4 1312.3 L1652.3 1320.8 L1653.3 1328.3 L1654.3 1334.2 L1655.8 1341.1 L1657.3 1346.5 L1658.8 1350.7 L1660.8 1355.9 L1663.8 1361.6 L1666.8 1365.5 L1670.8 1369.3 L1674.8 1372.1 L1678.8 1374.3 L1684.8 1376.4 L1691.8 1378.8 L1698.8 1380.5 L1709.8 1382.0 L1719.8 1382.9 L1733.8 1384.0 L1749.8 1384.9 L1768.8 1385.7 L1809.8 1386.6 L1864.8 1387.4 L1944.8 1388.0 L1963.2 1388.0" stroke="#888888"/>
<path d="M1644.8 1209.0 L1642.0 1177.2 L1642.0 1170.1 L1642.2 1115.3 L1642.5 1005.6 L1642.7 895.9 L1642.8 797.2 L1643.1 676.5 L1643.2 512.0 L1643.5 402.3 L1643.7 292.6 L1645.9 292.6 L1646.1 402.3 L1646.3 512.0 L1646.5 676.5 L1646.8 797.2 L1646.9 895.9 L1647.1 1005.6 L1647.4 1115.3 L1647.5 1170.1 L1647.6 1177.2Z" fill="#888888" stroke="none"/>
<path d="M1397.4 1386.6 h5.8" stroke="#0433ff" stroke-width="2"/><path d="M1011.6 1387.5 h7.1" stroke="#8a2be2" stroke-width="2"/><path d="M873.4 1387.0 h9.0" stroke="#ff0000" stroke-width="2"/><path d="M658.7 1385.9 h8.2" stroke="#ff80b0" stroke-width="2"/><path d="M758.2 1387.5 h9.0" stroke="#ff0000" stroke-width="2"/><path d="M718.6 1385.3 h8.5" stroke="#ff80b0" stroke-width="2"/><path d="M1257.4 1386.2 h4.2" stroke="#00c800" stroke-width="2"/><path d="M1451.4 1386.3 h7.5" stroke="#cccc00" stroke-width="2"/><path d="M971.8 1387.3 h11.0" stroke="#651d00" stroke-width="2"/><path d="M618.0 1386.8 h6.7" stroke="#0433ff" stroke-width="2"/><path d="M751.2 1385.6 h5.1" stroke="#8a2be2" stroke-width="2"/><path d="M557.3 1387.2 h5.1" stroke="#ff80b0" stroke-width="2"/><path d="M492.5 1386.2 h5.5" stroke="#cccc00" stroke-width="2"/><path d="M736.6 1386.9 h8.1" stroke="#cccc00" stroke-width="2"/><path d="M927.5 1386.3 h8.6" stroke="#ff0000" stroke-width="2"/><path d="M1391.6 1386.1 h11.6" stroke="#00c8c8" stroke-width="2"/><path d="M775.4 1385.3 h3.9" stroke="#651d00" stroke-width="2"/><path d="M342.4 1385.5 h4.9" stroke="#cccc00" stroke-width="2"/><path d="M1038.7 1386.5 h3.9" stroke="#cccc00" stroke-width="2"/><path d="M1493.4 1387.3 h8.5" stroke="#8a2be2" stroke-width="2"/><path d="M1056.2 1387.5 h4.3" stroke="#ffa500" stroke-width="2"/><path d="M1040.8 1387.2 h7.3" stroke="#8a2be2" stroke-width="2"/><path d="M1551.0 1385.9 h7.2" stroke="#ff80b0" stroke-width="2"/><path d="M442.6 1386.3 h9.7" stroke="#ffa500" stroke-width="2"/><path d="M1158.0 1387.5 h7.6" stroke="#00c800" stroke-width="2"/><path d="M944.1 1387.4 h4.3" stroke="#00c8c8" stroke-width="2"/><path d="M1244.3 1386.9 h5.7" stroke="#8a2be2" stroke-width="2"/><path d="M595.4 1386.1 h6.3" stroke="#cccc00" stroke-width="2"/><path d="M545.4 1386.0 h7.9" stroke="#00c8c8" stroke-width="2"/><path d="M545.7 1387.1 h10.3" stroke="#00c800" stroke-width="2"/><path d="M1322.8 1385.7 h9.7" stroke="#00c800" stroke-width="2"/><path d="M897.8 1387.1 h9.6" stroke="#ff0000" stroke-width="2"/><path d="M871.0 1386.3 h4.7" stroke="#0433ff" stroke-width="2"/><path d="M1477.8 1385.4 h11.9" stroke="#0433ff" stroke-width="2"/><path d="M387.9 1385.7 h7.2" stroke="#0433ff" stroke-width="2"/><path d="M1069.2 1386.4 h11.1" stroke="#ff0000" stroke-width="2"/><path d="M1107.0 1387.2 h10.2" stroke="#8a2be2" stroke-width="2"/><path d="M411.0 1386.3 h6.5" stroke="#00c800" stroke-width="2"/><path d="M487.6 1385.4 h10.1" stroke="#0433ff" stroke-width="2"/><path d="M1489.7 1386.2 h9.5" stroke="#ff80b0" stroke-width="2"/><path d="M1490.5 1387.6 h9.5" stroke="#cccc00" stroke-width="2"/><path d="M290.5 1387.1 h8.3" stroke="#ff80b0" stroke-width="2"/><path d="M445.3 1386.8 h10.4" stroke="#ff80b0" stroke-width="2"/><path d="M712.0 1385.3 h7.9" stroke="#cccc00" stroke-width="2"/><path d="M1298.1 1386.5 h9.5" stroke="#8a2be2" stroke-width="2"/><path d="M1473.3 1387.2 h6.9" stroke="#00c800" stroke-width="2"/><path d="M530.0 1386.4 h5.3" stroke="#ffa500" stroke-width="2"/><path d="M1251.5 1386.2 h5.9" stroke="#00c8c8" stroke-width="2"/><path d="M425.6 1387.4 h11.2" stroke="#0433ff" stroke-width="2"/><path d="M1119.4 1386.2 h10.3" stroke="#00c8c8" stroke-width="2"/><path d="M1452.6 1385.6 h7.5" stroke="#00c8c8" stroke-width="2"/><path d="M921.0 1386.7 h10.9" stroke="#cccc00" stroke-width="2"/><path d="M1267.6 1386.3 h4.3" stroke="#cccc00" stroke-width="2"/><path d="M1201.2 1386.8 h8.0" stroke="#0433ff" stroke-width="2"/><path d="M947.4 1387.3 h7.3" stroke="#8a2be2" stroke-width="2"/><path d="M328.7 1387.1 h4.7" stroke="#ff0000" stroke-width="2"/><path d="M917.3 1386.3 h8.1" stroke="#8a2be2" stroke-width="2"/><path d="M1054.2 1385.7 h7.5" stroke="#00c8c8" stroke-width="2"/><path d="M616.4 1386.4 h7.6" stroke="#ff80b0" stroke-width="2"/><path d="M577.8 1387.4 h7.7" stroke="#ffa500" stroke-width="2"/><path d="M1420.0 1385.5 h4.8" stroke="#ff80b0" stroke-width="2"/><path d="M413.3 1386.8 h7.0" stroke="#8a2be2" stroke-width="2"/><path d="M813.7 1387.1 h4.9" stroke="#ffa500" stroke-width="2"/><path d="M1425.6 1385.5 h4.4" stroke="#0433ff" stroke-width="2"/><path d="M1407.0 1387.0 h11.7" stroke="#00c800" stroke-width="2"/><path d="M377.4 1387.6 h11.0" stroke="#cccc00" stroke-width="2"/><path d="M1341.3 1387.6 h4.5" stroke="#651d00" stroke-width="2"/><path d="M781.7 1386.0 h6.8" stroke="#0433ff" stroke-width="2"/><path d="M1197.3 1386.3 h3.2" stroke="#00c8c8" stroke-width="2"/><path d="M1172.5 1386.7 h6.5" stroke="#00c8c8" stroke-width="2"/>
<path d="M250.5 1389.8 H1866.5 l1.8 -1 l1.2 -8 l1.2 8 l1.8 1 H1963.2" stroke="#888888" stroke-width="3.6"/>
</g>
<path d="M250.5 1389.5 V1421.0 M464.6 1389.5 V1421.0 M678.7 1389.5 V1421.0 M892.8 1389.5 V1421.0 M1106.8 1389.5 V1421.0 M1320.9 1389.5 V1421.0 M1535.0 1389.5 V1421.0 M1749.1 1389.5 V1421.0 M1963.2 1389.5 V1421.0 M369.4 183.5 V151.5 M709.3 183.5 V151.5 M1069.1 183.5 V151.5 M1450.7 183.5 V151.5 M1856.2 183.5 V151.5 M250.5 1389.5 H219.5 M1963.2 1389.5 H1994.5 M250.5 1170.1 H219.5 M1963.2 1170.1 H1994.5 M250.5 950.7 H219.5 M1963.2 950.7 H1994.5 M250.5 731.4 H219.5 M1963.2 731.4 H1994.5 M250.5 512.0 H219.5 M1963.2 512.0 H1994.5 M250.5 292.6 H219.5 M1963.2 292.6 H1994.5" stroke="#000" stroke-width="2.8" fill="none"/>
<text x="250.5" y="1475" font-size="48.3" text-anchor="middle">2750</text>
<text x="464.6" y="1475" font-size="48.3" text-anchor="middle">2800</text>
<text x="678.7" y="1475" font-size="48.3" text-anchor="middle">2850</text>
<text x="892.8" y="1475" font-size="48.3" text-anchor="middle">2900</text>
<text x="1106.8" y="1475" font-size="48.3" text-anchor="middle">2950</text>
<text x="1320.9" y="1475" font-size="48.3" text-anchor="middle">3000</text>
<text x="1535.0" y="1475" font-size="48.3" text-anchor="middle">3050</text>
<text x="1749.1" y="1475" font-size="48.3" text-anchor="middle">3100</text>
<text x="1963.2" y="1475" font-size="48.3" text-anchor="middle">3150</text>
<text x="369.4" y="126" font-size="48.3" text-anchor="middle">3.6</text>
<text x="709.3" y="126" font-size="48.3" text-anchor="middle">3.5</text>
<text x="1069.1" y="126" font-size="48.3" text-anchor="middle">3.4</text>
<text x="1450.7" y="126" font-size="48.3" text-anchor="middle">3.3</text>
<text x="1856.2" y="126" font-size="48.3" text-anchor="middle">3.2</text>
<text x="203.8" y="1403.1" font-size="48" text-anchor="end">0.0</text>
<text x="203.8" y="1183.7" font-size="48" text-anchor="end">0.2</text>
<text x="203.8" y="964.3" font-size="48" text-anchor="end">0.4</text>
<text x="203.8" y="745.0" font-size="48" text-anchor="end">0.6</text>
<text x="203.8" y="525.6" font-size="48" text-anchor="end">0.8</text>
<text x="203.8" y="306.2" font-size="48" text-anchor="end">1.0</text>
<text x="1107.3" y="61.6" font-size="57.5" text-anchor="middle">Wavelength [<tspan font-style="italic">μ</tspan>m]</text>
<text x="845" y="1566" font-size="57.3">Wavenumbers [cm<tspan font-size="39" dx="0.8" dy="-33.5">-1</tspan><tspan font-size="48" dx="1.2" dy="33.8">]</tspan></text>
<text transform="translate(61,788) rotate(-90)" font-size="57.5" text-anchor="middle">Spectral intensity (normalized)</text>
</svg></body></html>
